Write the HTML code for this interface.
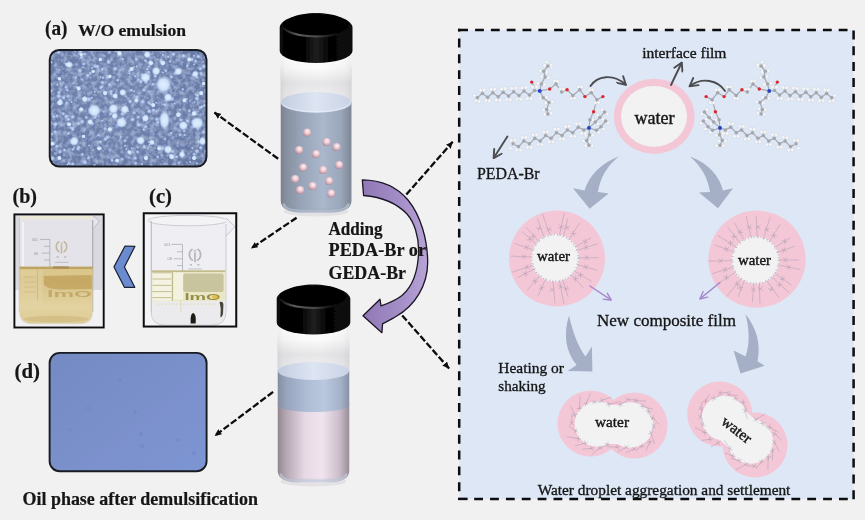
<!DOCTYPE html>
<html lang="en"><head><meta charset="utf-8"><title>Demulsification mechanism</title>
<style>
html,body{margin:0;padding:0;background:#f1f1f1;}
body{width:865px;height:520px;overflow:hidden;}
svg{display:block;}
text{font-family:"Liberation Serif","DejaVu Serif",serif;fill:#141414;stroke:#141414;stroke-width:0.32px;}
.ns{stroke:none;}
.w{stroke-width:0.4px;}
.b{font-weight:bold;stroke-width:0.2px;}
</style></head><body>
<svg width="865" height="520" viewBox="0 0 865 520">
<defs>
<filter id="soft" x="0" y="0" width="1" height="1" filterUnits="objectBoundingBox"><feGaussianBlur stdDeviation="0.45"/></filter>
<clipPath id="cpA"><rect x="49.7" y="50" width="156.8" height="116.5" rx="9.5" ry="9.5"/></clipPath>
<clipPath id="cpD"><rect x="49.6" y="352.9" width="157" height="118.3" rx="10" ry="10"/></clipPath>
<clipPath id="cpB"><rect x="14" y="214" width="90" height="114"/></clipPath>
<clipPath id="cpC"><rect x="143.5" y="213" width="93" height="114"/></clipPath>
<radialGradient id="gA" cx="0.45" cy="0.45" r="0.8">
 <stop offset="0" stop-color="#7183ae"/><stop offset="0.6" stop-color="#6a7ca8"/><stop offset="1" stop-color="#5f719d"/>
</radialGradient>
<filter id="noiseA" x="0" y="0" width="1" height="1"><feTurbulence type="fractalNoise" baseFrequency="0.22" numOctaves="2" seed="4"/><feColorMatrix values="0 0 0 0 0.70  0 0 0 0 0.79  0 0 0 0 0.95  0 0 0 2.2 -0.85"/><feGaussianBlur stdDeviation="0.7"/></filter>
<radialGradient id="blob" cx="0.5" cy="0.5" r="0.5">
 <stop offset="0" stop-color="#e2f0ff" stop-opacity="1"/><stop offset="0.62" stop-color="#d2e5fd" stop-opacity="0.95"/><stop offset="1" stop-color="#a9c4ee" stop-opacity="0"/>
</radialGradient>
<radialGradient id="dot" cx="0.5" cy="0.5" r="0.5">
 <stop offset="0" stop-color="#cfe2fb" stop-opacity="0.95"/><stop offset="0.5" stop-color="#b5cdf2" stop-opacity="0.7"/><stop offset="1" stop-color="#90aade" stop-opacity="0"/>
</radialGradient>
<linearGradient id="gD" x1="0" y1="0" x2="1" y2="1">
 <stop offset="0" stop-color="#748ac3"/><stop offset="0.5" stop-color="#7a90cb"/><stop offset="1" stop-color="#7d95d3"/>
</linearGradient>
<linearGradient id="capSide" x1="0" y1="0" x2="1" y2="0">
 <stop offset="0" stop-color="#101010"/><stop offset="0.06" stop-color="#030303"/><stop offset="0.32" stop-color="#000"/><stop offset="0.5" stop-color="#202020"/><stop offset="0.68" stop-color="#040404"/><stop offset="1" stop-color="#0c0c0c"/>
</linearGradient>
<linearGradient id="capHi" x1="0" y1="0" x2="1" y2="0">
 <stop offset="0" stop-color="#777" stop-opacity="0.15"/><stop offset="0.25" stop-color="#6a6a6a" stop-opacity="0.9"/><stop offset="0.6" stop-color="#555" stop-opacity="0.8"/><stop offset="1" stop-color="#444" stop-opacity="0"/>
</linearGradient>
<linearGradient id="capTop" x1="0" y1="0" x2="0" y2="1">
 <stop offset="0" stop-color="#0a0a0a"/><stop offset="0.7" stop-color="#0c0c0c"/><stop offset="1" stop-color="#3a3a3a"/>
</linearGradient>
<linearGradient id="glass" x1="0" y1="0" x2="1" y2="0">
 <stop offset="0" stop-color="#cfcfd2"/><stop offset="0.07" stop-color="#e4e4e6"/><stop offset="0.3" stop-color="#f3f3f4"/><stop offset="0.6" stop-color="#f7f7f8"/><stop offset="0.9" stop-color="#e6e6e8"/><stop offset="1" stop-color="#d2d2d5"/>
</linearGradient>
<linearGradient id="glassV" x1="0" y1="0" x2="0" y2="1">
 <stop offset="0" stop-color="#ffffff" stop-opacity="0.95"/><stop offset="0.35" stop-color="#ffffff" stop-opacity="0.5"/><stop offset="0.6" stop-color="#d8d8da" stop-opacity="0.55"/><stop offset="1" stop-color="#e9e9ec" stop-opacity="0.2"/>
</linearGradient>
<linearGradient id="liqBlue" x1="0" y1="0" x2="1" y2="0">
 <stop offset="0" stop-color="#79828f"/><stop offset="0.08" stop-color="#86909f"/><stop offset="0.3" stop-color="#98a5b9"/><stop offset="0.6" stop-color="#aab7cc"/><stop offset="0.85" stop-color="#9aa6b9"/><stop offset="1" stop-color="#7d8694"/>
</linearGradient>
<linearGradient id="liqSurf" x1="0" y1="0" x2="1" y2="0">
 <stop offset="0" stop-color="#c3cde0"/><stop offset="0.5" stop-color="#dde5f3"/><stop offset="1" stop-color="#cad3e5"/>
</linearGradient>
<linearGradient id="liqBlue2" x1="0" y1="0" x2="1" y2="0">
 <stop offset="0" stop-color="#838ea3"/><stop offset="0.12" stop-color="#97a4bc"/><stop offset="0.4" stop-color="#aebcd5"/><stop offset="0.65" stop-color="#bac8df"/><stop offset="0.88" stop-color="#a4b1c9"/><stop offset="1" stop-color="#8791a5"/>
</linearGradient>
<linearGradient id="liqPink" x1="0" y1="0" x2="1" y2="0">
 <stop offset="0" stop-color="#91868f"/><stop offset="0.12" stop-color="#b5a8b3"/><stop offset="0.38" stop-color="#e6d9e5"/><stop offset="0.62" stop-color="#f0e4ee"/><stop offset="0.86" stop-color="#cbbeca"/><stop offset="1" stop-color="#988d98"/>
</linearGradient>
<radialGradient id="sph" cx="0.56" cy="0.36" r="0.72">
 <stop offset="0" stop-color="#fff3f6"/><stop offset="0.4" stop-color="#eccdd5"/><stop offset="0.78" stop-color="#c59aa7"/><stop offset="1" stop-color="#8f6e7b"/>
</radialGradient>
<linearGradient id="purp" x1="0" y1="0" x2="1" y2="0">
 <stop offset="0" stop-color="#8f78b4"/><stop offset="0.6" stop-color="#a58fc8"/><stop offset="1" stop-color="#b7a4d6"/>
</linearGradient>
<linearGradient id="oilB" x1="0" y1="0" x2="0" y2="1">
 <stop offset="0" stop-color="#c6aa64"/><stop offset="0.12" stop-color="#d5bf82"/><stop offset="0.35" stop-color="#dac68e"/><stop offset="0.7" stop-color="#e3d3a0"/><stop offset="1" stop-color="#dccb94"/>
</linearGradient>
<marker id="ah" viewBox="0 0 10 10" refX="9.6" refY="5" markerWidth="3.1" markerHeight="2.8" orient="auto" markerUnits="strokeWidth" preserveAspectRatio="none">
 <path d="M0,0 L10,5 L0,10 L1.2,5 Z" fill="#0a0a0a"/>
</marker>
<marker id="ag" viewBox="0 0 10 10" refX="8.4" refY="5" markerWidth="5.6" markerHeight="5.6" orient="auto" markerUnits="strokeWidth">
 <path d="M1.5,0.8 L9,5 L1.5,9.2" fill="none" stroke="#4d4d4f" stroke-width="1.8" stroke-linecap="round" stroke-linejoin="round"/>
</marker>
<marker id="ap" viewBox="0 0 10 10" refX="8" refY="5" markerWidth="6.5" markerHeight="6.5" orient="auto" markerUnits="strokeWidth">
 <path d="M1,1 L9,5 L1,9" fill="none" stroke="#a48acb" stroke-width="1.5" stroke-linecap="round" stroke-linejoin="round"/>
</marker>
</defs>
<g filter="url(#soft)">
<rect x="0" y="0" width="865" height="520" fill="#f1f1f1"/>
<g clip-path="url(#cpA)"><rect x="49.5" y="49.5" width="158.0" height="117.5" fill="url(#gA)"/><rect x="49.5" y="49.5" width="158.0" height="117.5" filter="url(#noiseA)" opacity="0.55"/><g fill="#a9c1ec" opacity="0.45"><circle cx="100.7" cy="67.2" r="0.7"/><circle cx="60.9" cy="112.5" r="1.3"/><circle cx="141.6" cy="156.4" r="1.0"/><circle cx="55.4" cy="100.5" r="0.8"/><circle cx="87.5" cy="114.2" r="0.7"/><circle cx="180.1" cy="64" r="1.0"/><circle cx="149.1" cy="118" r="0.7"/><circle cx="140.7" cy="96.1" r="1.0"/><circle cx="56.9" cy="150.4" r="1.1"/><circle cx="115.7" cy="113" r="1.1"/><circle cx="138" cy="129.6" r="0.8"/><circle cx="141.4" cy="124.6" r="1.3"/><circle cx="64.9" cy="133.2" r="0.7"/><circle cx="147.3" cy="107.8" r="1.5"/><circle cx="172.3" cy="104.2" r="1.8"/><circle cx="106.6" cy="78.7" r="0.9"/><circle cx="159.9" cy="78.2" r="1.1"/><circle cx="132.5" cy="152.3" r="1.8"/><circle cx="95" cy="164.7" r="0.8"/><circle cx="130.4" cy="68.9" r="1.3"/><circle cx="73.5" cy="107" r="0.7"/><circle cx="201.5" cy="58.6" r="1.3"/><circle cx="103.2" cy="90.6" r="1.8"/><circle cx="141.1" cy="103.1" r="0.8"/><circle cx="198.8" cy="105.2" r="0.8"/><circle cx="59.1" cy="131.9" r="1.8"/><circle cx="94.5" cy="94.8" r="1.3"/><circle cx="53.1" cy="103.7" r="0.9"/><circle cx="146" cy="107.5" r="1.0"/><circle cx="170.9" cy="64.7" r="1.0"/><circle cx="112.4" cy="157.2" r="1.8"/><circle cx="62.2" cy="102.3" r="1.1"/><circle cx="189.1" cy="145.8" r="1.1"/><circle cx="161.1" cy="165.4" r="1.5"/><circle cx="200.8" cy="67.2" r="0.9"/><circle cx="73.4" cy="126.9" r="0.7"/><circle cx="126.1" cy="118.7" r="1.1"/><circle cx="94" cy="66.6" r="1.3"/><circle cx="145.9" cy="86.9" r="0.9"/><circle cx="158.6" cy="110.1" r="0.7"/><circle cx="121.6" cy="151.8" r="1.5"/><circle cx="112.4" cy="95.8" r="1.8"/><circle cx="149.7" cy="56.8" r="0.8"/><circle cx="205.1" cy="101.3" r="0.8"/><circle cx="103.2" cy="55.7" r="0.7"/><circle cx="139.1" cy="112.6" r="1.3"/><circle cx="146.5" cy="57.8" r="1.0"/><circle cx="146.5" cy="67" r="1.1"/><circle cx="200.5" cy="120.3" r="1.8"/><circle cx="68.9" cy="149.3" r="1.8"/><circle cx="125.4" cy="86.1" r="0.9"/><circle cx="65.6" cy="89.8" r="1.1"/><circle cx="125.1" cy="130.8" r="0.7"/><circle cx="81.9" cy="161.4" r="1.3"/><circle cx="72.7" cy="113.3" r="0.7"/><circle cx="169.3" cy="84.5" r="0.8"/><circle cx="159.5" cy="80.2" r="1.3"/><circle cx="193" cy="91.3" r="1.0"/><circle cx="133.6" cy="141" r="1.3"/><circle cx="150.1" cy="121.6" r="1.0"/><circle cx="176.9" cy="145.7" r="1.0"/><circle cx="81.1" cy="107.4" r="0.7"/><circle cx="205.9" cy="142.3" r="1.8"/><circle cx="90.4" cy="130.9" r="1.3"/><circle cx="120.2" cy="159.6" r="1.3"/><circle cx="200.4" cy="92.3" r="1.0"/><circle cx="65.6" cy="104.7" r="1.3"/><circle cx="81.8" cy="122.8" r="0.7"/><circle cx="125.3" cy="126.2" r="0.8"/><circle cx="181.4" cy="63.6" r="1.5"/><circle cx="173.1" cy="137.6" r="1.8"/><circle cx="190" cy="100.5" r="1.3"/><circle cx="63.2" cy="160.7" r="1.5"/><circle cx="122.7" cy="136.8" r="0.8"/><circle cx="164" cy="69.5" r="0.9"/><circle cx="53.9" cy="118.9" r="1.8"/><circle cx="176.9" cy="66.7" r="1.8"/><circle cx="153.3" cy="90.7" r="0.9"/><circle cx="52.9" cy="143.4" r="0.8"/><circle cx="132.7" cy="159.2" r="1.5"/><circle cx="205.4" cy="72.4" r="1.0"/><circle cx="53.9" cy="74.5" r="1.0"/><circle cx="170.2" cy="87.8" r="1.5"/><circle cx="181.3" cy="56.7" r="1.3"/><circle cx="191.3" cy="127.3" r="1.5"/><circle cx="180.2" cy="152.7" r="0.9"/><circle cx="133.5" cy="111" r="0.7"/><circle cx="187.4" cy="140.7" r="0.7"/><circle cx="172.1" cy="67.1" r="0.9"/><circle cx="124.3" cy="134.7" r="0.7"/><circle cx="101" cy="110.4" r="1.8"/><circle cx="173.4" cy="62" r="0.7"/><circle cx="88.8" cy="82" r="0.8"/><circle cx="129.7" cy="115.5" r="0.8"/><circle cx="119.5" cy="121.5" r="1.0"/><circle cx="159" cy="102.7" r="1.8"/><circle cx="129.7" cy="78.6" r="1.1"/><circle cx="195.3" cy="154.4" r="1.0"/><circle cx="182.2" cy="65.6" r="0.8"/><circle cx="111.5" cy="86.6" r="1.0"/><circle cx="117.2" cy="74.5" r="1.1"/><circle cx="173.4" cy="154.9" r="0.9"/><circle cx="197.9" cy="125.1" r="1.3"/><circle cx="72.1" cy="153.2" r="1.8"/><circle cx="84.2" cy="161.4" r="1.5"/><circle cx="189.3" cy="68.6" r="1.0"/><circle cx="75" cy="100.2" r="1.5"/><circle cx="103.1" cy="72.5" r="1.3"/><circle cx="64.1" cy="92.5" r="1.3"/><circle cx="137" cy="101.3" r="0.7"/><circle cx="110.2" cy="110.3" r="1.1"/><circle cx="130.4" cy="57.1" r="1.0"/><circle cx="203" cy="61.8" r="1.1"/><circle cx="92.5" cy="155.9" r="0.9"/><circle cx="92.2" cy="64.7" r="1.5"/><circle cx="183.7" cy="128.9" r="1.1"/><circle cx="113.6" cy="112.6" r="1.8"/><circle cx="160.2" cy="60" r="0.7"/><circle cx="175.8" cy="71" r="0.8"/><circle cx="92" cy="51.5" r="0.8"/><circle cx="176.2" cy="59.3" r="1.0"/><circle cx="60" cy="150.9" r="1.8"/><circle cx="51.3" cy="166.3" r="1.5"/><circle cx="195.9" cy="81" r="0.9"/><circle cx="56.3" cy="132.9" r="0.8"/><circle cx="202.6" cy="80.3" r="0.9"/><circle cx="81.4" cy="86.2" r="1.1"/><circle cx="133.4" cy="73.7" r="1.8"/><circle cx="128.5" cy="70.4" r="1.3"/><circle cx="176.5" cy="166.4" r="0.7"/><circle cx="51.9" cy="135.6" r="1.0"/><circle cx="130.7" cy="78.4" r="1.8"/><circle cx="66.3" cy="145.7" r="1.5"/><circle cx="153.2" cy="113.6" r="1.5"/><circle cx="202.8" cy="85.7" r="1.0"/><circle cx="204.7" cy="89.8" r="0.9"/><circle cx="113.4" cy="90.3" r="0.7"/><circle cx="181.7" cy="51.2" r="1.1"/><circle cx="117.6" cy="56" r="1.5"/><circle cx="187" cy="128.3" r="1.1"/><circle cx="144.1" cy="130.9" r="0.7"/><circle cx="122.1" cy="68" r="1.8"/><circle cx="50.1" cy="92.3" r="1.3"/><circle cx="203.2" cy="113.8" r="1.0"/><circle cx="54.9" cy="153.2" r="1.0"/><circle cx="105.8" cy="49.6" r="1.5"/><circle cx="62.8" cy="82.3" r="1.0"/><circle cx="88.7" cy="140.7" r="0.8"/><circle cx="91.2" cy="60" r="1.5"/><circle cx="142.2" cy="95.8" r="1.1"/><circle cx="97.6" cy="76.9" r="0.9"/><circle cx="153.4" cy="133.6" r="1.5"/><circle cx="170.3" cy="134.2" r="1.8"/><circle cx="73.1" cy="134.6" r="0.9"/><circle cx="56.4" cy="147.6" r="1.5"/><circle cx="165.4" cy="144.9" r="0.9"/><circle cx="193.3" cy="138" r="0.7"/><circle cx="180.1" cy="118.1" r="1.0"/><circle cx="62.9" cy="54.4" r="1.3"/><circle cx="201.1" cy="93.8" r="1.8"/><circle cx="137.7" cy="123.3" r="1.0"/><circle cx="126.8" cy="49.9" r="0.8"/><circle cx="167.7" cy="108.6" r="0.8"/><circle cx="153.7" cy="57.3" r="1.8"/><circle cx="89.3" cy="58.2" r="1.1"/><circle cx="86.6" cy="138.4" r="1.0"/><circle cx="166.4" cy="164.1" r="1.8"/><circle cx="183.1" cy="58.5" r="1.1"/><circle cx="170.7" cy="122" r="1.0"/><circle cx="61.7" cy="66.8" r="1.1"/><circle cx="152.4" cy="130.9" r="0.9"/><circle cx="51.5" cy="56.6" r="1.1"/><circle cx="203.2" cy="61.2" r="1.0"/><circle cx="156.3" cy="83.7" r="1.1"/><circle cx="122.9" cy="104.3" r="0.8"/><circle cx="206.4" cy="114" r="1.1"/><circle cx="204" cy="159.5" r="0.7"/><circle cx="95.3" cy="58.5" r="1.8"/><circle cx="206.5" cy="95" r="1.0"/><circle cx="61.3" cy="60.1" r="1.1"/><circle cx="200" cy="65.1" r="1.1"/><circle cx="189.6" cy="132.1" r="1.0"/><circle cx="128.2" cy="152.4" r="1.5"/><circle cx="53.4" cy="49.9" r="1.8"/><circle cx="157.2" cy="97.1" r="0.9"/><circle cx="115.3" cy="93.7" r="0.8"/><circle cx="182.3" cy="49.7" r="1.3"/><circle cx="182.1" cy="63.6" r="1.0"/><circle cx="162.2" cy="155.4" r="1.1"/><circle cx="89.5" cy="57.1" r="1.5"/><circle cx="207.3" cy="118.7" r="1.3"/><circle cx="195.7" cy="138.3" r="0.7"/><circle cx="93.8" cy="55.6" r="1.1"/><circle cx="149.8" cy="67" r="1.1"/><circle cx="118.4" cy="86.6" r="1.3"/><circle cx="173.6" cy="99.8" r="0.7"/><circle cx="177.8" cy="123.6" r="1.0"/><circle cx="163.2" cy="55.3" r="1.5"/><circle cx="120.7" cy="137.9" r="1.1"/><circle cx="126.2" cy="156.6" r="0.9"/><circle cx="76.5" cy="98.2" r="1.1"/><circle cx="96.5" cy="136.3" r="1.1"/><circle cx="113.7" cy="77.5" r="1.8"/><circle cx="137.6" cy="95.8" r="0.9"/><circle cx="151.1" cy="58.3" r="1.8"/><circle cx="136.5" cy="102.7" r="1.3"/><circle cx="206.9" cy="102.4" r="0.9"/><circle cx="136.1" cy="78.2" r="0.9"/><circle cx="103.5" cy="60.2" r="1.0"/><circle cx="107.7" cy="144.6" r="1.0"/><circle cx="189.7" cy="137.6" r="1.5"/><circle cx="110" cy="137.1" r="1.0"/><circle cx="109" cy="89.2" r="0.7"/><circle cx="128.2" cy="117" r="1.3"/><circle cx="69.4" cy="108.6" r="1.0"/><circle cx="64.1" cy="154.9" r="1.5"/><circle cx="112.7" cy="101.9" r="1.1"/><circle cx="183.6" cy="152.1" r="0.7"/><circle cx="69.6" cy="99.5" r="1.8"/><circle cx="202.5" cy="107.1" r="0.8"/><circle cx="111.4" cy="158.4" r="1.8"/><circle cx="203.1" cy="78.7" r="0.8"/><circle cx="84.9" cy="67.4" r="0.8"/><circle cx="198.3" cy="134.3" r="1.8"/><circle cx="62.9" cy="140.8" r="0.7"/><circle cx="173.1" cy="76.8" r="0.7"/><circle cx="151.5" cy="85.2" r="0.9"/><circle cx="148.5" cy="111.6" r="1.5"/><circle cx="159.9" cy="62.7" r="0.8"/><circle cx="97" cy="160.4" r="1.0"/><circle cx="110.8" cy="75.8" r="0.7"/><circle cx="51.2" cy="84.9" r="1.8"/><circle cx="93.5" cy="86.7" r="1.0"/><circle cx="124.6" cy="77.1" r="1.0"/><circle cx="54.1" cy="97.9" r="1.1"/><circle cx="58.2" cy="72.3" r="1.5"/><circle cx="62.3" cy="76.3" r="1.5"/><circle cx="195.7" cy="76.1" r="0.7"/><circle cx="159.4" cy="133.9" r="1.3"/><circle cx="157.3" cy="72.8" r="1.1"/><circle cx="166.3" cy="108.8" r="1.0"/><circle cx="127.8" cy="73" r="1.0"/><circle cx="86" cy="75.5" r="1.1"/><circle cx="66.7" cy="122.8" r="0.9"/><circle cx="191.1" cy="106.5" r="0.7"/><circle cx="199.4" cy="66.7" r="1.5"/><circle cx="58.1" cy="52.3" r="0.9"/><circle cx="115.1" cy="132.9" r="0.9"/><circle cx="111.6" cy="155" r="1.3"/><circle cx="165.3" cy="166.7" r="0.9"/><circle cx="101.5" cy="71.3" r="1.8"/><circle cx="54.5" cy="127.6" r="1.5"/><circle cx="182.1" cy="165.2" r="1.8"/><circle cx="76.2" cy="49.8" r="1.1"/><circle cx="62.3" cy="98.9" r="0.8"/><circle cx="138.2" cy="138.7" r="1.5"/><circle cx="105.8" cy="146" r="1.5"/><circle cx="63.4" cy="132.4" r="1.0"/><circle cx="108.4" cy="157.5" r="1.0"/><circle cx="100.6" cy="136.1" r="1.8"/><circle cx="54.3" cy="97.8" r="1.5"/><circle cx="55.9" cy="53.6" r="0.8"/><circle cx="176.4" cy="56.8" r="1.0"/><circle cx="167.6" cy="155.1" r="1.3"/><circle cx="106.8" cy="88.9" r="0.7"/><circle cx="90.9" cy="133.7" r="1.3"/><circle cx="195.5" cy="84.4" r="0.8"/><circle cx="53.3" cy="77" r="1.8"/><circle cx="162.6" cy="104.2" r="1.5"/><circle cx="174.3" cy="156.8" r="1.8"/><circle cx="70.5" cy="107.8" r="0.7"/><circle cx="176.3" cy="136.3" r="0.9"/><circle cx="145.4" cy="88" r="1.3"/><circle cx="122.3" cy="141.6" r="0.8"/><circle cx="130.4" cy="95.5" r="0.9"/><circle cx="88.6" cy="57.1" r="0.7"/><circle cx="125.6" cy="113.5" r="0.9"/><circle cx="204.4" cy="153.3" r="0.8"/><circle cx="91.4" cy="59.4" r="0.8"/><circle cx="116" cy="165.6" r="1.8"/><circle cx="76.9" cy="65.1" r="1.8"/><circle cx="147.5" cy="128.7" r="0.8"/><circle cx="172.7" cy="84" r="1.1"/><circle cx="139.1" cy="93.3" r="1.1"/><circle cx="81" cy="78.6" r="1.0"/><circle cx="86.7" cy="82.6" r="1.0"/><circle cx="101.1" cy="96" r="1.0"/><circle cx="129.7" cy="76.7" r="0.8"/><circle cx="152.7" cy="165.9" r="0.8"/><circle cx="50.2" cy="153.2" r="1.0"/><circle cx="182.3" cy="156.9" r="0.7"/><circle cx="188" cy="76.9" r="0.7"/><circle cx="79.5" cy="163.8" r="1.0"/><circle cx="196.5" cy="93.2" r="0.9"/><circle cx="120.5" cy="80" r="0.7"/><circle cx="66.2" cy="119.5" r="1.3"/><circle cx="83.9" cy="92.8" r="0.9"/><circle cx="56.5" cy="167" r="0.7"/><circle cx="144.2" cy="126.1" r="1.0"/><circle cx="178.2" cy="145.7" r="1.5"/><circle cx="156.7" cy="71.3" r="1.1"/><circle cx="61.8" cy="53.2" r="1.8"/><circle cx="136.1" cy="56.9" r="0.8"/><circle cx="175.2" cy="127.5" r="0.9"/><circle cx="150.5" cy="60.2" r="0.9"/><circle cx="112.3" cy="81.4" r="1.1"/><circle cx="155" cy="98.6" r="0.7"/><circle cx="98.9" cy="116.1" r="1.3"/><circle cx="114.9" cy="51.6" r="1.3"/><circle cx="151.3" cy="95.4" r="1.5"/><circle cx="81.7" cy="50.2" r="0.9"/><circle cx="116.5" cy="145.9" r="1.5"/><circle cx="140.8" cy="92.4" r="0.9"/><circle cx="70" cy="55.6" r="0.9"/><circle cx="150.7" cy="156.4" r="0.8"/><circle cx="140" cy="158.4" r="0.9"/><circle cx="72.6" cy="82.8" r="0.9"/><circle cx="195.7" cy="62.3" r="1.8"/><circle cx="168.6" cy="142.6" r="1.0"/><circle cx="97.2" cy="147.9" r="0.7"/><circle cx="203.6" cy="106.2" r="0.7"/><circle cx="145.5" cy="124.3" r="0.8"/><circle cx="192.4" cy="122.4" r="0.9"/><circle cx="150.7" cy="150.1" r="1.5"/><circle cx="146.6" cy="72.5" r="1.8"/><circle cx="78.4" cy="75.1" r="1.5"/><circle cx="197.8" cy="67.9" r="1.3"/><circle cx="68.9" cy="78.5" r="1.0"/><circle cx="56" cy="115.6" r="0.7"/><circle cx="155" cy="87.6" r="1.5"/><circle cx="144.2" cy="114.1" r="1.1"/><circle cx="152" cy="85.7" r="1.0"/><circle cx="116.8" cy="126.9" r="1.8"/><circle cx="129.1" cy="70.5" r="0.7"/><circle cx="147.3" cy="107" r="1.0"/><circle cx="120.1" cy="122.2" r="1.8"/><circle cx="181.7" cy="144.7" r="1.5"/><circle cx="66.4" cy="64.6" r="1.5"/><circle cx="107.2" cy="143.8" r="0.7"/><circle cx="55.9" cy="64.8" r="1.3"/><circle cx="172.4" cy="109.6" r="0.7"/><circle cx="168.3" cy="154.6" r="0.9"/><circle cx="53.6" cy="57.3" r="0.8"/><circle cx="80.1" cy="164.9" r="1.8"/><circle cx="95" cy="144.8" r="0.9"/><circle cx="157.9" cy="134.2" r="1.0"/><circle cx="59.9" cy="90.7" r="1.1"/><circle cx="74.6" cy="154.8" r="1.1"/><circle cx="192.5" cy="103.1" r="1.1"/><circle cx="128.9" cy="157.6" r="1.0"/><circle cx="143" cy="121.9" r="1.0"/><circle cx="99.9" cy="53.8" r="0.9"/><circle cx="113.2" cy="124.3" r="1.1"/><circle cx="156.9" cy="154.7" r="0.9"/><circle cx="174.7" cy="80.6" r="0.7"/><circle cx="150" cy="91.8" r="1.8"/><circle cx="137.2" cy="117.7" r="0.8"/><circle cx="89.3" cy="112.4" r="1.5"/><circle cx="166.1" cy="93.1" r="1.5"/><circle cx="206" cy="117.3" r="1.3"/><circle cx="101.8" cy="59.1" r="1.0"/><circle cx="77.4" cy="136.9" r="0.7"/><circle cx="96.3" cy="110.1" r="1.1"/><circle cx="150.5" cy="165.1" r="1.3"/><circle cx="165.3" cy="137.3" r="1.0"/><circle cx="73.1" cy="121.9" r="1.5"/><circle cx="115.5" cy="92.3" r="0.7"/><circle cx="70.4" cy="76.2" r="0.7"/><circle cx="53" cy="49.8" r="1.3"/><circle cx="97.5" cy="111" r="1.0"/><circle cx="114.8" cy="84.9" r="0.9"/><circle cx="81.8" cy="122.8" r="1.8"/><circle cx="74.6" cy="51.2" r="1.0"/><circle cx="161.3" cy="102.5" r="0.8"/><circle cx="150.3" cy="151.9" r="1.1"/><circle cx="113" cy="80.5" r="0.7"/><circle cx="58.4" cy="146" r="1.3"/><circle cx="143.5" cy="117.5" r="1.8"/><circle cx="88.8" cy="155.7" r="0.7"/><circle cx="59.2" cy="52.5" r="0.9"/><circle cx="87.1" cy="56.4" r="0.8"/><circle cx="51.5" cy="114.2" r="1.0"/><circle cx="72" cy="72.9" r="1.5"/><circle cx="178" cy="70" r="1.1"/><circle cx="59.6" cy="123.1" r="1.8"/><circle cx="162.5" cy="50.2" r="1.5"/><circle cx="167.2" cy="104.2" r="1.8"/><circle cx="77.2" cy="166.6" r="1.1"/><circle cx="86.2" cy="54.1" r="1.3"/><circle cx="190.3" cy="158.2" r="1.1"/><circle cx="161.9" cy="80.8" r="1.5"/><circle cx="157.8" cy="157.3" r="1.1"/><circle cx="96.2" cy="158.6" r="1.0"/><circle cx="63" cy="109.1" r="0.9"/><circle cx="90.6" cy="77.2" r="1.0"/><circle cx="198.8" cy="137.2" r="1.3"/><circle cx="79.8" cy="95.2" r="1.0"/><circle cx="109.5" cy="149.6" r="1.8"/><circle cx="124.1" cy="111.8" r="0.7"/><circle cx="185" cy="100.9" r="1.0"/><circle cx="139.6" cy="85.7" r="1.0"/><circle cx="111.4" cy="118.3" r="0.9"/><circle cx="72.3" cy="52.7" r="0.8"/><circle cx="147.8" cy="68.5" r="0.9"/><circle cx="160.2" cy="53.1" r="0.9"/><circle cx="158.9" cy="124" r="0.8"/><circle cx="165.9" cy="57.2" r="1.3"/><circle cx="81" cy="161.7" r="0.8"/><circle cx="188.5" cy="138.3" r="1.5"/><circle cx="66.4" cy="73.7" r="0.8"/><circle cx="54.8" cy="161" r="0.8"/><circle cx="179.9" cy="123.7" r="1.1"/><circle cx="124.9" cy="65.1" r="1.0"/><circle cx="96" cy="89" r="1.1"/><circle cx="52.8" cy="79.7" r="1.1"/><circle cx="57.1" cy="138.8" r="1.3"/><circle cx="171" cy="120.2" r="1.8"/><circle cx="184" cy="122.1" r="0.7"/><circle cx="174.2" cy="53.2" r="0.8"/><circle cx="104.3" cy="132.3" r="1.0"/><circle cx="162.4" cy="146.8" r="1.1"/><circle cx="76.4" cy="49.7" r="1.0"/><circle cx="95.1" cy="137.7" r="0.7"/><circle cx="50.2" cy="107.2" r="1.8"/><circle cx="159.3" cy="146.5" r="1.8"/><circle cx="143.1" cy="162" r="1.1"/><circle cx="140.8" cy="68.2" r="1.0"/><circle cx="197.7" cy="76.7" r="0.9"/><circle cx="66.9" cy="124.3" r="0.8"/><circle cx="127" cy="166" r="0.8"/><circle cx="148.7" cy="91.3" r="1.5"/><circle cx="196.2" cy="154.3" r="0.8"/><circle cx="116.2" cy="125.4" r="1.3"/><circle cx="82.1" cy="80.4" r="0.9"/><circle cx="109.4" cy="153.4" r="1.0"/><circle cx="198.6" cy="64.4" r="0.7"/><circle cx="104.6" cy="87.9" r="0.9"/><circle cx="186.6" cy="102.4" r="1.3"/><circle cx="76.3" cy="101.1" r="1.1"/><circle cx="141" cy="64.3" r="1.8"/><circle cx="151" cy="131.3" r="1.0"/><circle cx="91.8" cy="138.2" r="0.9"/><circle cx="163.8" cy="164" r="1.3"/><circle cx="144.8" cy="90.5" r="1.0"/><circle cx="101.3" cy="71.7" r="0.8"/><circle cx="75.5" cy="126.8" r="1.0"/><circle cx="110.2" cy="165.1" r="1.1"/><circle cx="165.4" cy="100.6" r="1.0"/><circle cx="66.8" cy="156.6" r="1.1"/><circle cx="82.1" cy="95.1" r="0.7"/><circle cx="51.5" cy="149.9" r="1.5"/><circle cx="159.1" cy="108.3" r="1.1"/><circle cx="122.7" cy="66.2" r="1.5"/><circle cx="50.4" cy="78" r="1.5"/><circle cx="160.3" cy="118.5" r="1.5"/><circle cx="183.2" cy="128" r="1.0"/><circle cx="156.9" cy="124.9" r="1.8"/><circle cx="117.8" cy="80" r="0.8"/><circle cx="190.9" cy="78" r="1.5"/><circle cx="162.2" cy="123.5" r="1.1"/><circle cx="183.7" cy="106.2" r="0.7"/><circle cx="147.7" cy="97.6" r="0.9"/><circle cx="190.8" cy="88" r="0.7"/><circle cx="110.9" cy="107.1" r="0.8"/><circle cx="55.5" cy="113.3" r="0.9"/><circle cx="162.7" cy="161.3" r="1.0"/><circle cx="131.5" cy="61.4" r="1.8"/><circle cx="135" cy="133.8" r="0.7"/><circle cx="150.5" cy="146.9" r="1.3"/><circle cx="114.3" cy="160.9" r="1.0"/><circle cx="206" cy="71.1" r="0.8"/><circle cx="164.7" cy="121.6" r="0.7"/><circle cx="89.4" cy="94.4" r="0.7"/><circle cx="51.6" cy="98.7" r="1.5"/><circle cx="148.8" cy="128.8" r="1.1"/><circle cx="66.8" cy="85.2" r="1.5"/><circle cx="198" cy="111.4" r="1.0"/><circle cx="206.6" cy="162.4" r="1.8"/><circle cx="83" cy="64.7" r="0.8"/><circle cx="177.4" cy="124" r="1.8"/><circle cx="151" cy="134.2" r="0.9"/><circle cx="105.3" cy="124.6" r="1.5"/><circle cx="123.5" cy="84.1" r="0.9"/><circle cx="172.7" cy="104.7" r="1.0"/><circle cx="91.8" cy="93.7" r="1.1"/><circle cx="204.8" cy="129.3" r="1.8"/><circle cx="49.9" cy="134.3" r="1.1"/><circle cx="106.1" cy="126.4" r="1.3"/><circle cx="125.3" cy="99.8" r="0.8"/><circle cx="153.7" cy="92.1" r="1.1"/><circle cx="184.5" cy="56.2" r="1.3"/><circle cx="173.4" cy="66" r="1.3"/><circle cx="149.5" cy="51.3" r="0.7"/><circle cx="82.6" cy="58" r="1.1"/><circle cx="89" cy="61.4" r="0.9"/><circle cx="184.5" cy="71.3" r="1.8"/><circle cx="104.2" cy="67.4" r="1.5"/><circle cx="174.6" cy="69.2" r="0.8"/><circle cx="155.1" cy="154.5" r="1.1"/><circle cx="80.7" cy="130.9" r="0.8"/><circle cx="166.7" cy="101" r="0.8"/><circle cx="137.2" cy="80.6" r="1.0"/><circle cx="180.2" cy="105.1" r="0.7"/><circle cx="126" cy="155.9" r="1.8"/><circle cx="88.5" cy="68.8" r="0.7"/><circle cx="74.8" cy="87.2" r="1.8"/><circle cx="154.6" cy="148.3" r="1.3"/><circle cx="116.8" cy="167" r="0.8"/><circle cx="78" cy="91.8" r="0.7"/><circle cx="52.7" cy="54.9" r="1.3"/><circle cx="177.3" cy="60.5" r="1.8"/><circle cx="126.1" cy="155" r="0.7"/><circle cx="83.2" cy="98.3" r="0.9"/><circle cx="103" cy="150.7" r="1.3"/><circle cx="103.4" cy="141" r="1.0"/><circle cx="94.4" cy="89.7" r="1.1"/><circle cx="137" cy="146.6" r="1.1"/><circle cx="105.6" cy="107.5" r="1.3"/><circle cx="129.1" cy="81.4" r="1.3"/><circle cx="203.5" cy="126.4" r="0.8"/></g><g fill="url(#dot)"><circle cx="101.8" cy="86.8" r="2.0"/><circle cx="69.7" cy="163.8" r="1.5"/><circle cx="173.4" cy="54.2" r="2.8"/><circle cx="137.1" cy="97.2" r="2.5"/><circle cx="57.4" cy="84.8" r="1.5"/><circle cx="56.8" cy="146.1" r="2.2"/><circle cx="145.7" cy="126.8" r="2.5"/><circle cx="193.3" cy="121.4" r="2.5"/><circle cx="72.7" cy="128.7" r="2.8"/><circle cx="143.7" cy="129.5" r="1.8"/><circle cx="55.7" cy="123.9" r="2.8"/><circle cx="170" cy="61.4" r="1.8"/><circle cx="186.8" cy="99" r="1.5"/><circle cx="193.9" cy="126.5" r="2.0"/><circle cx="187.3" cy="65.8" r="2.0"/><circle cx="138.3" cy="79.8" r="2.0"/><circle cx="78.7" cy="53.5" r="1.5"/><circle cx="117.5" cy="124.9" r="1.5"/><circle cx="128.1" cy="110.9" r="1.5"/><circle cx="171.8" cy="99" r="2.8"/><circle cx="194.6" cy="102" r="1.5"/><circle cx="156.9" cy="119.3" r="2.8"/><circle cx="204.5" cy="105.4" r="2.2"/><circle cx="136.2" cy="59.2" r="2.2"/><circle cx="83" cy="67.3" r="1.5"/><circle cx="117" cy="50.6" r="2.8"/><circle cx="68.7" cy="163" r="1.5"/><circle cx="84" cy="63.8" r="2.2"/><circle cx="52.3" cy="134" r="1.8"/><circle cx="120.7" cy="136.9" r="1.5"/><circle cx="107.3" cy="137.3" r="2.8"/><circle cx="184.7" cy="135.2" r="1.5"/><circle cx="95.8" cy="115" r="2.2"/><circle cx="122.3" cy="159.1" r="2.0"/><circle cx="193.8" cy="55.7" r="1.5"/><circle cx="51.3" cy="51.2" r="2.8"/><circle cx="158" cy="122.1" r="2.2"/><circle cx="98.6" cy="135.2" r="1.8"/><circle cx="200.8" cy="147.6" r="2.5"/><circle cx="58.9" cy="92.7" r="2.5"/><circle cx="164.5" cy="104.7" r="1.8"/><circle cx="72.4" cy="143.2" r="2.0"/><circle cx="200.2" cy="68.8" r="2.2"/><circle cx="124.9" cy="140.9" r="2.2"/><circle cx="198.8" cy="141.7" r="2.5"/><circle cx="102.3" cy="82.4" r="2.5"/><circle cx="203.4" cy="132.1" r="2.5"/><circle cx="102" cy="120.7" r="1.5"/><circle cx="180.8" cy="120.1" r="2.0"/><circle cx="141.9" cy="164.2" r="1.8"/><circle cx="109" cy="130" r="2.5"/><circle cx="171.4" cy="77" r="2.2"/><circle cx="94.3" cy="49.7" r="2.0"/><circle cx="91.8" cy="68" r="1.5"/><circle cx="95.1" cy="66" r="2.5"/><circle cx="72.7" cy="164.1" r="2.5"/><circle cx="157.7" cy="156.9" r="2.0"/><circle cx="134" cy="112.9" r="2.2"/><circle cx="175.5" cy="73.1" r="2.8"/><circle cx="196.7" cy="77" r="2.5"/><circle cx="58.6" cy="96" r="2.8"/><circle cx="82.1" cy="79.4" r="1.5"/><circle cx="174.6" cy="103.5" r="1.5"/><circle cx="134.2" cy="91.2" r="1.5"/><circle cx="86.3" cy="117.6" r="2.0"/><circle cx="189.3" cy="110.8" r="2.2"/><circle cx="129.5" cy="73.2" r="1.8"/><circle cx="79.9" cy="70.7" r="2.8"/><circle cx="95.3" cy="117.4" r="2.0"/><circle cx="113.1" cy="110.3" r="1.8"/><circle cx="88.4" cy="157.9" r="2.2"/><circle cx="108.6" cy="62" r="2.8"/><circle cx="122.7" cy="59.1" r="2.0"/><circle cx="143.9" cy="90" r="2.5"/><circle cx="145.4" cy="60.6" r="1.8"/><circle cx="206" cy="151.3" r="2.2"/><circle cx="142.2" cy="74.6" r="2.0"/><circle cx="116.8" cy="160.7" r="2.5"/><circle cx="178.9" cy="162.7" r="2.0"/><circle cx="182.8" cy="89.3" r="1.8"/><circle cx="109.3" cy="52.7" r="1.5"/><circle cx="137.6" cy="151.8" r="2.2"/><circle cx="126.4" cy="148.9" r="1.5"/><circle cx="185.8" cy="124.7" r="1.5"/><circle cx="161.1" cy="60.1" r="2.0"/><circle cx="138.7" cy="124.8" r="2.8"/><circle cx="129.5" cy="71" r="1.8"/><circle cx="108.1" cy="77.1" r="2.8"/><circle cx="84.5" cy="54" r="2.0"/><circle cx="198.2" cy="56.5" r="2.5"/><circle cx="192.4" cy="147.9" r="1.5"/><circle cx="90.2" cy="109.8" r="2.8"/><circle cx="151.7" cy="165.3" r="1.5"/><circle cx="65.5" cy="86.8" r="1.5"/><circle cx="197.9" cy="129" r="2.0"/><circle cx="142.7" cy="101.4" r="2.8"/><circle cx="66.2" cy="87.6" r="2.0"/><circle cx="111.1" cy="93.6" r="2.2"/><circle cx="76.1" cy="77.5" r="1.8"/><circle cx="194" cy="154.3" r="2.2"/><circle cx="162.8" cy="72.4" r="1.5"/><circle cx="74.3" cy="147.4" r="1.5"/><circle cx="197.1" cy="151.3" r="2.8"/><circle cx="71.6" cy="102.1" r="1.5"/><circle cx="195.8" cy="94.7" r="1.5"/><circle cx="148.8" cy="102.6" r="2.0"/><circle cx="100.5" cy="77" r="1.5"/><circle cx="148.8" cy="66.3" r="1.8"/><circle cx="165.8" cy="70.7" r="2.2"/><circle cx="136.9" cy="66.5" r="1.8"/><circle cx="91.6" cy="97.9" r="1.8"/><circle cx="53.5" cy="116.6" r="2.0"/><circle cx="102.4" cy="69.2" r="2.2"/><circle cx="66.8" cy="103.1" r="2.2"/><circle cx="67.5" cy="164.5" r="1.5"/><circle cx="149.2" cy="142" r="1.8"/><circle cx="138" cy="147.6" r="1.5"/><circle cx="90.2" cy="73.2" r="2.0"/><circle cx="117.8" cy="80.2" r="1.8"/><circle cx="195.7" cy="61" r="2.0"/><circle cx="115.2" cy="68.6" r="2.8"/><circle cx="204.1" cy="66.5" r="2.8"/><circle cx="52" cy="144.3" r="2.0"/><circle cx="130.2" cy="101.6" r="2.5"/><circle cx="94.8" cy="91.8" r="1.5"/><circle cx="193.6" cy="75.1" r="2.5"/><circle cx="78" cy="148.6" r="2.5"/><circle cx="171.2" cy="133.1" r="1.8"/><circle cx="144.4" cy="146.9" r="2.5"/><circle cx="165" cy="139" r="1.8"/><circle cx="82.1" cy="121.5" r="2.8"/><circle cx="148.8" cy="72.1" r="2.0"/><circle cx="81.5" cy="57.2" r="2.8"/><circle cx="131.6" cy="148.3" r="1.5"/><circle cx="131.4" cy="90.3" r="2.0"/><circle cx="182.5" cy="151.1" r="2.2"/><circle cx="63.8" cy="97.6" r="2.2"/><circle cx="70.6" cy="127.7" r="1.8"/><circle cx="78.9" cy="147.2" r="2.0"/><circle cx="55.3" cy="132" r="2.5"/><circle cx="143.5" cy="50" r="2.5"/><circle cx="196.8" cy="163.3" r="1.5"/><circle cx="68.6" cy="133.5" r="2.0"/><circle cx="172.6" cy="151.5" r="2.5"/><circle cx="168.2" cy="56.7" r="1.5"/><circle cx="200.2" cy="107.6" r="2.5"/><circle cx="53.6" cy="144" r="1.8"/><circle cx="52.8" cy="163.2" r="1.8"/><circle cx="147.3" cy="69.2" r="2.0"/><circle cx="89.1" cy="145.5" r="1.5"/><circle cx="52.6" cy="158.3" r="2.8"/><circle cx="80.3" cy="51.6" r="2.5"/><circle cx="150.1" cy="104" r="1.8"/><circle cx="160.5" cy="61.6" r="1.5"/><circle cx="162.8" cy="54.8" r="1.5"/><circle cx="122.9" cy="118.3" r="2.0"/><circle cx="66.9" cy="63.8" r="1.8"/><circle cx="135.1" cy="76.2" r="1.8"/><circle cx="72.8" cy="116.8" r="2.8"/><circle cx="112.2" cy="160.9" r="1.5"/><circle cx="197.6" cy="95.2" r="2.2"/><circle cx="143.8" cy="120.3" r="1.5"/><circle cx="112" cy="160.1" r="2.0"/><circle cx="103" cy="77.7" r="2.0"/><circle cx="162.6" cy="148.6" r="2.5"/><circle cx="176.6" cy="156.8" r="2.2"/><circle cx="183.4" cy="55.8" r="2.5"/><circle cx="72.7" cy="129.4" r="2.0"/><circle cx="88.9" cy="99.1" r="2.8"/><circle cx="51.3" cy="62.3" r="1.8"/><circle cx="60.4" cy="100.4" r="2.5"/><circle cx="155.2" cy="76" r="2.2"/><circle cx="202.7" cy="140.7" r="2.2"/><circle cx="149.5" cy="144.6" r="1.5"/><circle cx="54.9" cy="124.9" r="2.0"/><circle cx="194.5" cy="122.8" r="2.8"/><circle cx="135.2" cy="158.1" r="2.5"/><circle cx="65.4" cy="63.8" r="1.5"/><circle cx="118" cy="161.2" r="2.0"/><circle cx="67.4" cy="90.3" r="1.8"/><circle cx="68.5" cy="119.3" r="2.5"/><circle cx="191.9" cy="59.4" r="2.5"/><circle cx="133.8" cy="66.9" r="1.5"/><circle cx="130.3" cy="153.5" r="2.2"/><circle cx="140.7" cy="81.7" r="2.8"/><circle cx="63.4" cy="113.7" r="2.2"/><circle cx="145.9" cy="116.5" r="2.8"/><circle cx="110.6" cy="114" r="2.0"/><circle cx="122.3" cy="113.9" r="2.5"/><circle cx="125" cy="145.7" r="1.5"/><circle cx="87.8" cy="75.5" r="2.5"/><circle cx="135.8" cy="163.4" r="2.2"/><circle cx="51.4" cy="90.9" r="1.8"/><circle cx="100.7" cy="87.7" r="2.0"/><circle cx="94.5" cy="165.5" r="2.0"/><circle cx="58.5" cy="52.1" r="2.5"/><circle cx="60.1" cy="151.9" r="2.2"/><circle cx="153.4" cy="110.2" r="2.2"/><circle cx="105.4" cy="139.1" r="2.5"/><circle cx="85.1" cy="162.2" r="2.8"/><circle cx="197.1" cy="98.5" r="2.8"/><circle cx="105.2" cy="128.9" r="2.5"/><circle cx="146" cy="82" r="2.5"/><circle cx="64.5" cy="150.1" r="2.2"/><circle cx="92" cy="123.6" r="2.8"/><circle cx="194" cy="64.5" r="1.5"/><circle cx="50.2" cy="139.5" r="2.5"/><circle cx="68.1" cy="96.2" r="2.5"/><circle cx="73.1" cy="149.4" r="2.0"/><circle cx="187.4" cy="120.9" r="2.2"/><circle cx="184.1" cy="130.9" r="2.0"/><circle cx="163.7" cy="83.9" r="2.2"/><circle cx="132.6" cy="119.5" r="2.8"/><circle cx="100.4" cy="142" r="2.2"/><circle cx="109.6" cy="84.8" r="2.5"/><circle cx="97.5" cy="66.5" r="2.5"/><circle cx="109.1" cy="76.8" r="2.0"/><circle cx="100.7" cy="148.6" r="1.8"/><circle cx="201" cy="73.5" r="2.2"/><circle cx="190.3" cy="161.8" r="1.5"/><circle cx="57" cy="115.9" r="2.2"/><circle cx="96.9" cy="112.5" r="2.0"/><circle cx="134.6" cy="166.8" r="2.5"/><circle cx="180" cy="134.9" r="2.2"/><circle cx="111" cy="91.5" r="2.5"/><circle cx="156.3" cy="102.7" r="1.5"/><circle cx="156.4" cy="111.2" r="1.5"/><circle cx="114.2" cy="108.4" r="2.8"/><circle cx="138.2" cy="117" r="1.8"/><circle cx="201.9" cy="106.7" r="2.2"/><circle cx="170.7" cy="155.2" r="2.5"/><circle cx="103.7" cy="111.8" r="1.5"/><circle cx="76.5" cy="86.9" r="1.5"/><circle cx="180" cy="109.7" r="1.5"/><circle cx="153.1" cy="84.2" r="2.0"/><circle cx="179.1" cy="165.9" r="2.2"/><circle cx="149.2" cy="111.1" r="2.5"/><circle cx="82.3" cy="154.4" r="2.2"/><circle cx="78.3" cy="123.5" r="2.5"/><circle cx="66.3" cy="116.5" r="2.8"/></g><g fill="url(#blob)"><ellipse cx="163.5" cy="84.7" rx="8.2" ry="8.9"/><ellipse cx="145.5" cy="77.5" rx="5.6" ry="5.2"/><ellipse cx="94.3" cy="110.4" rx="6.7" ry="6.7"/><ellipse cx="121.5" cy="122.4" rx="5.6" ry="5.6"/><ellipse cx="124.8" cy="109.4" rx="4.5" ry="4.5"/><ellipse cx="113.5" cy="108.7" rx="5.2" ry="5.2"/><ellipse cx="164.5" cy="120" rx="5.6" ry="10.1"/><ellipse cx="197.2" cy="123.1" rx="6.7" ry="6.7"/><ellipse cx="183.3" cy="125.5" rx="4.8" ry="4.8"/><ellipse cx="74.3" cy="141.2" rx="4.8" ry="4.8"/><ellipse cx="156.1" cy="71" rx="4.5" ry="4.5"/><ellipse cx="178.4" cy="71.4" rx="4.1" ry="4.1"/><ellipse cx="168.1" cy="97.4" rx="4.5" ry="4.5"/><ellipse cx="140.7" cy="140.5" rx="4.5" ry="4.5"/><ellipse cx="168.1" cy="149.6" rx="4.5" ry="4.5"/><ellipse cx="147.2" cy="54.6" rx="3.7" ry="3.7"/><ellipse cx="69" cy="64.7" rx="4.1" ry="3.4"/><ellipse cx="59.9" cy="102.7" rx="3.4" ry="3.4"/><ellipse cx="122.7" cy="92.4" rx="3.7" ry="3.7"/><ellipse cx="84.7" cy="99.1" rx="3.4" ry="3.4"/><ellipse cx="150.8" cy="63" rx="3" ry="3"/><ellipse cx="162.8" cy="63" rx="3" ry="3"/><ellipse cx="195.3" cy="73.9" rx="3.4" ry="3.4"/><ellipse cx="145.5" cy="118.3" rx="3.7" ry="3.7"/><ellipse cx="202.5" cy="141.2" rx="3.7" ry="4.5"/><ellipse cx="119.5" cy="53.4" rx="3" ry="3"/><ellipse cx="182.1" cy="154.4" rx="3.4" ry="3.4"/><ellipse cx="115.2" cy="96" rx="3" ry="3"/><ellipse cx="81.1" cy="109.4" rx="2.6" ry="2.6"/><ellipse cx="90.2" cy="121.9" rx="3" ry="3"/><ellipse cx="69" cy="124.3" rx="2.6" ry="2.6"/><ellipse cx="114.7" cy="115.9" rx="3.4" ry="3.4"/><ellipse cx="194.1" cy="113.5" rx="3" ry="3"/><ellipse cx="178.4" cy="114.7" rx="3" ry="3"/><ellipse cx="152" cy="142.4" rx="3" ry="3"/><ellipse cx="159.2" cy="148.4" rx="2.6" ry="2.6"/><ellipse cx="105.1" cy="93.1" rx="2.6" ry="2.6"/><ellipse cx="109.9" cy="129.2" rx="2.6" ry="2.6"/><ellipse cx="78.7" cy="88.3" rx="2.6" ry="2.6"/><ellipse cx="52.2" cy="143.6" rx="2.6" ry="2.6"/><ellipse cx="99.1" cy="148.4" rx="2.6" ry="2.6"/><ellipse cx="171.7" cy="156.8" rx="3" ry="3"/><ellipse cx="129.2" cy="152" rx="2.2" ry="2.2"/><ellipse cx="189.3" cy="59.4" rx="2.6" ry="2.6"/><ellipse cx="201.3" cy="93.1" rx="2.6" ry="2.6"/><ellipse cx="184.5" cy="100.3" rx="2.6" ry="2.6"/><ellipse cx="59.4" cy="78.7" rx="2.2" ry="2.2"/><ellipse cx="93.1" cy="71.4" rx="2.2" ry="2.2"/><ellipse cx="109.9" cy="76.3" rx="2.2" ry="2.2"/><ellipse cx="131.6" cy="69" rx="2.6" ry="2.6"/><ellipse cx="136.4" cy="100.3" rx="2.6" ry="2.6"/><ellipse cx="153.2" cy="105.1" rx="2.6" ry="2.6"/><ellipse cx="83.5" cy="136.4" rx="2.2" ry="2.2"/><ellipse cx="59.4" cy="158" rx="2.6" ry="2.6"/><ellipse cx="117.1" cy="160.4" rx="2.2" ry="2.2"/><ellipse cx="146" cy="158" rx="2.6" ry="2.6"/><ellipse cx="194.1" cy="158" rx="2.6" ry="2.6"/><ellipse cx="203.7" cy="83.5" rx="2.2" ry="2.2"/><ellipse cx="100.3" cy="59.4" rx="2.2" ry="2.2"/><ellipse cx="81.1" cy="54.6" rx="2.2" ry="2.2"/></g></g><rect x="49.7" y="50" width="156.8" height="116.5" rx="9.5" ry="9.5" fill="none" stroke="#181a22" stroke-width="1.9"/>
<g clip-path="url(#cpD)"><rect x="49" y="352.5" width="158.5" height="119.5" fill="url(#gD)"/><g fill="none" stroke="#6680c0" stroke-width="0.7" opacity="0.8"><circle cx="88" cy="408" r="1.2"/><circle cx="135" cy="412" r="1.3"/><circle cx="141" cy="434" r="1.4"/><circle cx="142" cy="446" r="1.6"/><circle cx="194" cy="453" r="1.5"/><circle cx="178" cy="440" r="1"/><circle cx="120" cy="380" r="0.9"/><circle cx="70" cy="430" r="0.9"/></g></g><rect x="49.6" y="352.9" width="157" height="118.3" rx="10" ry="10" fill="none" stroke="#181a22" stroke-width="1.9"/>
<text class="b" x="45" y="35" font-size="21" textLength="22.5" lengthAdjust="spacingAndGlyphs">(a)</text>
<text class="b" x="78" y="36" font-size="17.5" textLength="108" lengthAdjust="spacingAndGlyphs">W/O emulsion</text>
<text class="b" x="12.5" y="203" font-size="21" textLength="24.5" lengthAdjust="spacingAndGlyphs">(b)</text>
<text class="b" x="149" y="203" font-size="21" textLength="23" lengthAdjust="spacingAndGlyphs">(c)</text>
<text class="b" x="14.5" y="377.5" font-size="21" textLength="25.5" lengthAdjust="spacingAndGlyphs">(d)</text>
<text class="b" x="22.5" y="504.5" font-size="18" textLength="235.5" lengthAdjust="spacingAndGlyphs">Oil phase after demulsification</text>
<g clip-path="url(#cpB)"><rect x="13" y="213" width="92" height="116" fill="#d9d9e0"/><rect x="13" y="290" width="92" height="40" fill="#f1f1f4"/><path d="M19,216.5 L93,216.5 L93,312 Q93,324.5 80,324.5 L32,324.5 Q19,324.5 19,312 Z" fill="#e3e3e9"/><rect x="19" y="216" width="74" height="3.4" fill="#ebe8d8"/><path d="M93,216 L99,220.5 Q100,222 97.5,223.5 L93,229" fill="#e6e6ea" stroke="#b4b4bd" stroke-width="0.8"/><line x1="19.3" y1="217" x2="19.3" y2="312" stroke="#c3c3cb" stroke-width="0.9"/><line x1="92.7" y1="220" x2="92.7" y2="312" stroke="#a9a9b3" stroke-width="1.1"/><rect x="22" y="222" width="2" height="44" fill="#f6f6f9" opacity="0.8"/><path d="M19.6,267.5 L92.6,267.5 L92.6,311 Q92.6,323.6 79,323.6 L33,323.6 Q19.6,323.6 19.6,311 Z" fill="url(#oilB)"/><rect x="19.6" y="266.6" width="73" height="2.4" fill="#bfa362"/><rect x="19.6" y="269" width="73" height="6.5" fill="#dcc88e" opacity="0.9"/><path d="M44,276 L91.5,275 L92,289 L60,289.5 Q48,289 44,285 Z" fill="#c3a55f" opacity="0.85"/><rect x="20.5" y="270" width="22" height="40" fill="#e1d4a4" opacity="0.55"/><line x1="24" y1="277" x2="36" y2="277" stroke="#c2aa6c" stroke-width="0.6" opacity="0.7"/><line x1="24" y1="282" x2="36" y2="282" stroke="#c2aa6c" stroke-width="0.6" opacity="0.7"/><line x1="24" y1="287" x2="36" y2="287" stroke="#c2aa6c" stroke-width="0.6" opacity="0.7"/><line x1="24" y1="292" x2="36" y2="292" stroke="#c2aa6c" stroke-width="0.6" opacity="0.7"/><line x1="37.5" y1="270" x2="37.5" y2="300" stroke="#c2aa6c" stroke-width="0.9" opacity="0.6"/><ellipse cx="56" cy="319" rx="32" ry="3.2" fill="#cdb87c" opacity="0.6"/><text class="ns" x="47" y="297" font-size="9.5" font-weight="bold" style="fill:#c2a666;font-family:'Liberation Sans',sans-serif" opacity="0.9" textLength="45" lengthAdjust="spacingAndGlyphs">lmO</text><rect x="53" y="266.2" width="16" height="2.6" rx="1.3" fill="#a88b55" opacity="0.85"/><g stroke="#a3a3ad" stroke-width="0.7"><line x1="49.8" y1="239.4" x2="49.8" y2="268"/><line x1="40" y1="239.4" x2="49.8" y2="239.4"/><line x1="41.5" y1="253.1" x2="49.8" y2="253.1"/><line x1="44" y1="246.3" x2="49.8" y2="246.3"/><line x1="44" y1="260" x2="49.8" y2="260"/></g><text class="ns" x="32" y="240.8" font-size="3.6" style="fill:#9696a2;font-family:'Liberation Sans',sans-serif">001</text><text class="ns" x="34" y="254.6" font-size="3.6" style="fill:#9696a2;font-family:'Liberation Sans',sans-serif">08</text><g fill="none" stroke="#c3b79c" stroke-width="1.5" stroke-linecap="round"><path d="M58.8,241.8 C55.2,244 55.6,249.8 59,251.8"/><path d="M64.2,241.8 C67.8,244 67.4,249.8 64,251.8"/><path d="M61.5,245 L61.5,253"/></g><circle cx="61.5" cy="243.4" r="1.3" fill="#d9cfb8"/><g fill="#b9b9c2"><rect x="56.6" y="256.2" width="2" height="1.6"/><rect x="64.2" y="256.2" width="2" height="1.6"/><rect x="55" y="261.8" width="13.6" height="1.1" opacity="0.8"/></g></g><rect x="14.4" y="214.4" width="89.3" height="113.1" fill="none" stroke="#0e0e10" stroke-width="1.9"/>
<g clip-path="url(#cpC)"><rect x="143" y="213" width="94" height="116" fill="#f4f4f7"/><path d="M151.2,220 L226,220 L226,312 Q226,325 212,325 L165,325 Q151.2,325 151.2,312 Z" fill="#efeff3"/><ellipse cx="187.8" cy="220.6" rx="39.8" ry="5.2" fill="#f3f3f6" stroke="#c6c6ce" stroke-width="0.9"/><path d="M226.5,218.5 L235,226.5 L226,236" fill="#f0f0f4" stroke="#c0c0c9" stroke-width="0.9"/><line x1="151.3" y1="221" x2="151.3" y2="312" stroke="#b9b9c3" stroke-width="1.1"/><line x1="226" y1="224" x2="226" y2="312" stroke="#c6c6cf" stroke-width="0.9"/><path d="M151.3,312 Q151.3,325 165,325 L212,325 Q226,325 226,312" fill="none" stroke="#c3c3cc" stroke-width="0.9"/><path d="M151.8,300 L225.4,300 L225.4,312 Q225.4,324.2 212,324.2 L165,324.2 Q151.8,324.2 151.8,312 Z" fill="#ebebee"/><rect x="151.8" y="270.6" width="73.6" height="30.6" fill="#e9e7c6"/><rect x="151.8" y="270.4" width="73.6" height="1.5" fill="#bdb684"/><rect x="152.5" y="272.6" width="19" height="28" fill="#f4f2e2"/><line x1="152.5" y1="272.8" x2="171.5" y2="272.8" stroke="#bfb888" stroke-width="0.9"/><line x1="152.5" y1="279" x2="171.5" y2="279" stroke="#bfb888" stroke-width="0.9"/><line x1="152.5" y1="285.4" x2="171.5" y2="285.4" stroke="#bfb888" stroke-width="0.9"/><line x1="152.5" y1="291.6" x2="171.5" y2="291.6" stroke="#bfb888" stroke-width="0.9"/><line x1="152.5" y1="297.6" x2="171.5" y2="297.6" stroke="#bfb888" stroke-width="0.9"/><line x1="172.4" y1="271" x2="172.4" y2="301" stroke="#bfb888" stroke-width="1"/><rect x="173.6" y="272.6" width="9.4" height="27" fill="#f3f1e0"/><rect x="183.2" y="273.6" width="40.4" height="18.4" rx="2.2" fill="#c8c49d"/><text class="ns" x="184.4" y="300.4" font-size="9.5" font-weight="bold" style="fill:#8f843e;font-family:'Liberation Sans',sans-serif" opacity="0.9" textLength="36" lengthAdjust="spacingAndGlyphs">lmO</text><ellipse cx="214.8" cy="297" rx="3.2" ry="2" fill="#e2b736" opacity="0.8"/><line x1="158" y1="304.2" x2="216" y2="304.2" stroke="#dfcf86" stroke-width="1.2" stroke-dasharray="1.2 2.4" opacity="0.8"/><line x1="181" y1="300" x2="181" y2="312" stroke="#e0d59c" stroke-width="0.9" opacity="0.8"/><path d="M190.6,323.6 L190.6,319 Q191,313.2 193.2,313 Q195.8,314 195.8,319.5 L195.6,323.6 Z" fill="#1d1c17"/><path d="M219.6,302 Q223.4,301 223.4,305 L223,314 Q222,318 220.4,317 Q221.6,309 219.6,302 Z" fill="#2a281f" opacity="0.85"/><g stroke="#a3a3ad" stroke-width="0.7"><line x1="182.5" y1="244.4" x2="182.5" y2="271"/><line x1="171.5" y1="244.4" x2="182.5" y2="244.4"/><line x1="173.8" y1="258.8" x2="182.5" y2="258.8"/><line x1="177" y1="251.8" x2="182.5" y2="251.8"/><line x1="177" y1="265.6" x2="182.5" y2="265.6"/></g><text class="ns" x="164.2" y="245.8" font-size="3.8" style="fill:#9696a2;font-family:'Liberation Sans',sans-serif">001</text><text class="ns" x="167.6" y="260.2" font-size="3.8" style="fill:#9696a2;font-family:'Liberation Sans',sans-serif">08</text><g fill="none" stroke="#b4b4ba" stroke-width="1.7" stroke-linecap="round"><path d="M192,249.4 C188.2,252 188.8,258.2 192.4,260.2"/><path d="M198,249.4 C201.8,252 201.2,258.2 197.6,260.2"/><path d="M195,253 L195,261.4"/></g><circle cx="195" cy="251" r="1.4" fill="#c9c9cf"/><g fill="#b9b9c2"><rect x="190" y="264" width="2" height="1.6"/><rect x="197.4" y="264" width="2" height="1.6"/><rect x="188.4" y="268.4" width="13.6" height="1.1" opacity="0.8"/></g></g><rect x="143.75" y="213.25" width="92.5" height="113.3" fill="none" stroke="#0e0e10" stroke-width="2"/>
<path d="M125,246 L135,246.3 L124.4,266.9 L134.8,287.3 L124.4,287.3 L114,266.9 Z" fill="#6a8bd0" stroke="#1a2030" stroke-width="1.2" stroke-linejoin="round"/>
<g><ellipse cx="316.1" cy="211.5" rx="32.5" ry="5" fill="#dcdce0" opacity="0.7"/><clipPath id="cpVA"><path d="M285.6,57 Q280.6,61 280.6,73 L280.6,200.5 Q281.1,212 300.6,212.5 L331.6,212.5 Q351.1,212 351.6,200.5 L351.6,73 Q351.6,61 346.6,57 Z"/></clipPath><path d="M285.6,57 Q280.6,61 280.6,73 L280.6,200.5 Q281.1,212 300.6,212.5 L331.6,212.5 Q351.1,212 351.6,200.5 L351.6,73 Q351.6,61 346.6,57 Z" fill="url(#glass)"/><g clip-path="url(#cpVA)"><rect x="280.6" y="47" width="71" height="60" fill="url(#glassV)"/><rect x="280.6" y="102.4" width="71" height="112.1" fill="url(#liqBlue)"/><ellipse cx="316.1" cy="102.4" rx="35.2" ry="10.4" fill="url(#liqSurf)"/><path d="M281.1,102.4 A35.2,10.4 0 0 0 351.1,102.4" fill="none" stroke="#eef3fb" stroke-width="0.8" opacity="0.8"/><path d="M283.6,203.5 Q284.6,210.5 299.6,210.9 L332.6,210.9 Q347.6,210.5 348.6,203.5" fill="none" stroke="#c3cee0" stroke-width="2.6" opacity="0.6"/><rect x="280.6" y="208.5" width="71" height="5" fill="#8f9ab0" opacity="0.25"/></g><circle cx="307" cy="132.5" r="4.05" fill="url(#sph)"/><circle cx="326.5" cy="142" r="4.05" fill="url(#sph)"/><circle cx="336.5" cy="147" r="4.05" fill="url(#sph)"/><circle cx="299" cy="150" r="4.05" fill="url(#sph)"/><circle cx="316" cy="154" r="4.05" fill="url(#sph)"/><circle cx="339" cy="165" r="4.05" fill="url(#sph)"/><circle cx="303" cy="167.5" r="4.05" fill="url(#sph)"/><circle cx="323" cy="170" r="4.05" fill="url(#sph)"/><circle cx="295" cy="179" r="4.05" fill="url(#sph)"/><circle cx="329" cy="181" r="4.05" fill="url(#sph)"/><circle cx="312.5" cy="186" r="4.05" fill="url(#sph)"/><circle cx="300" cy="190" r="4.05" fill="url(#sph)"/><circle cx="331" cy="193.5" r="4.05" fill="url(#sph)"/><path d="M279.7,27.5 L279.7,51 A36.4,11.9 0 0 0 352.5,51 L352.5,27.5 C352.5,20 334.3,13 316.1,13 C297.9,13 279.7,20 279.7,27.5 Z" fill="url(#capSide)"/><ellipse cx="316.1" cy="24.8" rx="32.8" ry="10.8" fill="#040404"/><path d="M284,28.5 A33.8,11.4 0 0 0 338.7,33.5" fill="none" stroke="url(#capHi)" stroke-width="2" stroke-linecap="round"/></g>
<g><ellipse cx="313.5" cy="481.5" rx="32.9" ry="5" fill="#dcdce0" opacity="0.7"/><clipPath id="cpVB"><path d="M282.6,328.5 Q277.6,332.5 277.6,344.5 L277.6,470.5 Q278.1,482 297.6,482.5 L329.4,482.5 Q348.9,482 349.4,470.5 L349.4,344.5 Q349.4,332.5 344.4,328.5 Z"/></clipPath><path d="M282.6,328.5 Q277.6,332.5 277.6,344.5 L277.6,470.5 Q278.1,482 297.6,482.5 L329.4,482.5 Q348.9,482 349.4,470.5 L349.4,344.5 Q349.4,332.5 344.4,328.5 Z" fill="url(#glass)"/><g clip-path="url(#cpVB)"><rect x="277.6" y="318.5" width="71.8" height="60" fill="url(#glassV)"/><rect x="277.6" y="403" width="71.8" height="81.5" fill="url(#liqPink)"/><path d="M277.6,371 L349.4,371 L349.4,405 A35.9,7 0 0 1 277.6,405 Z" fill="url(#liqBlue2)"/><ellipse cx="313.5" cy="371" rx="35.6" ry="9" fill="url(#liqSurf)"/><path d="M280.6,473.5 Q281.6,480.5 296.6,480.9 L330.4,480.9 Q345.4,480.5 346.4,473.5" fill="none" stroke="#c3cee0" stroke-width="2.6" opacity="0.6"/><rect x="277.6" y="478.5" width="71.8" height="5" fill="#8f9ab0" opacity="0.1"/></g><path d="M276.7,299 L276.7,322.5 A36.8,11.9 0 0 0 350.3,322.5 L350.3,299 C350.3,291.5 331.9,284.5 313.5,284.5 C295.1,284.5 276.7,291.5 276.7,299 Z" fill="url(#capSide)"/><ellipse cx="313.5" cy="296.3" rx="33.2" ry="10.8" fill="#040404"/><path d="M281,300 A34.2,11.4 0 0 0 336.4,305" fill="none" stroke="url(#capHi)" stroke-width="2" stroke-linecap="round"/></g>
<path d="M362.3,179.8 C383,180 398,188 408,200 C421,216 427.5,240 427.7,262 C427.8,285 415,306 396,316.5 C391.5,319 387,321.8 382.6,323.6 L381.9,332.7 L363,315.7 L380,299.3 L381,305.9 C388,303.5 396,300 402,295.5 C412,287 418,272 418.6,252 C419,236 414,222 407,214 C397,203.5 381,197 363.6,195.5 Z" fill="url(#purp)" stroke="#1b1626" stroke-width="1.3" stroke-linejoin="round"/>
<line x1="278.1" y1="158.8" x2="214.4" y2="112.5" stroke="#0a0a0a" stroke-width="2.3" stroke-dasharray="6.8 2.4" marker-end="url(#ah)"/>
<line x1="296.6" y1="217.7" x2="251.1" y2="248.4" stroke="#0a0a0a" stroke-width="2.3" stroke-dasharray="6.8 2.4" marker-end="url(#ah)"/>
<line x1="273.1" y1="391.9" x2="214.8" y2="435.8" stroke="#0a0a0a" stroke-width="2.3" stroke-dasharray="6.8 2.4" marker-end="url(#ah)"/>
<line x1="406.3" y1="194.6" x2="452.7" y2="141.8" stroke="#0a0a0a" stroke-width="2.3" stroke-dasharray="6.8 2.4" marker-end="url(#ah)"/>
<line x1="402.2" y1="315.4" x2="449.1" y2="368.5" stroke="#0a0a0a" stroke-width="2.3" stroke-dasharray="6.8 2.4" marker-end="url(#ah)"/>
<text class="b" x="328.5" y="235" font-size="18" textLength="54" lengthAdjust="spacingAndGlyphs">Adding</text>
<text class="b" x="328.5" y="256" font-size="18" textLength="97.5" lengthAdjust="spacingAndGlyphs">PEDA-Br or</text>
<text class="b" x="328.5" y="278.5" font-size="18" textLength="77.5" lengthAdjust="spacingAndGlyphs">GEDA-Br</text>
<rect x="459.2" y="30" width="394.4" height="469" fill="#dde7f6"/>
<g stroke="#0b0b0d" stroke-width="2.5" fill="none"><path d="M458,30 L468,30"/><path d="M475.1,30 L848,30" stroke-dasharray="8.8 7.01"/><path d="M459.2,28.8 L459.2,31.5"/><path d="M459.2,38.5 L459.2,492" stroke-dasharray="8.9 6.95"/><path d="M458,498.9 L467.6,498.9"/><path d="M474.2,498.9 L848,498.9" stroke-dasharray="8.8 7.06"/><path d="M853.6,30.4 L853.6,499.6" stroke-dasharray="9 6.86"/></g>
<g stroke="#a6a9af" stroke-width="1.2" stroke-linecap="round"><line x1="477.3" y1="97.8" x2="482.4" y2="93.4"/><line x1="482.4" y1="93.4" x2="487.7" y2="97.2"/><line x1="487.7" y1="97.2" x2="492.8" y2="92.8"/><line x1="492.8" y1="92.8" x2="498.2" y2="96.7"/><line x1="498.2" y1="96.7" x2="503.2" y2="92.3"/><line x1="503.2" y1="92.3" x2="508.6" y2="96.1"/><line x1="508.6" y1="96.1" x2="513.6" y2="91.7"/><line x1="513.6" y1="91.7" x2="519" y2="95.6"/><line x1="519" y1="95.6" x2="524" y2="91.1"/><line x1="524" y1="91.1" x2="529.4" y2="95"/><line x1="529.4" y1="95" x2="534.5" y2="90.6"/><line x1="534.5" y1="90.6" x2="539.8" y2="90.9"/><line x1="539.8" y1="90.9" x2="541.4" y2="83.9"/><line x1="541.4" y1="83.9" x2="545.1" y2="77"/><line x1="545.1" y1="77" x2="543.7" y2="71.2"/><line x1="543.7" y1="71.2" x2="547.9" y2="65.9"/><line x1="539.8" y1="90.9" x2="543.2" y2="97.8"/><line x1="543.2" y1="97.8" x2="549" y2="102.4"/><line x1="549" y1="102.4" x2="546.7" y2="109.4"/><line x1="546.7" y1="109.4" x2="547.9" y2="114"/><line x1="534.5" y1="87.4" x2="531.7" y2="82.1"/><line x1="539.8" y1="90.9" x2="549.7" y2="89"/><line x1="549.7" y1="89" x2="556" y2="83.9"/><line x1="556" y1="83.9" x2="561.7" y2="92"/><line x1="561.7" y1="92" x2="567.1" y2="89.7"/><line x1="567.1" y1="89.7" x2="572.8" y2="95.5"/><line x1="572.8" y1="95.5" x2="579.8" y2="89.7"/><line x1="579.8" y1="89.7" x2="584.9" y2="96.6"/><line x1="584.9" y1="96.6" x2="591.3" y2="92.7"/><line x1="591.3" y1="92.7" x2="596.9" y2="99.7"/><line x1="596.9" y1="99.7" x2="602.9" y2="96.6"/><line x1="596.9" y1="99.7" x2="593.6" y2="111.7"/><line x1="593.6" y1="111.7" x2="589.9" y2="119.8"/><line x1="589.9" y1="119.8" x2="589" y2="127.9"/><line x1="589" y1="127.9" x2="595.3" y2="122.1"/><line x1="595.3" y1="122.1" x2="599.9" y2="117.5"/><line x1="599.9" y1="117.5" x2="604.5" y2="112.1"/><line x1="589" y1="127.9" x2="589.5" y2="134.8"/><line x1="589.5" y1="134.8" x2="586.7" y2="140.6"/><line x1="586.7" y1="140.6" x2="589" y2="145.2"/><line x1="589" y1="127.9" x2="596.4" y2="130.2"/><line x1="596.4" y1="130.2" x2="601" y2="126.7"/><line x1="601" y1="126.7" x2="605.7" y2="120.9"/><line x1="589" y1="127.9" x2="583.7" y2="129.9"/><line x1="583.7" y1="129.9" x2="578.3" y2="127.2"/><line x1="578.3" y1="127.2" x2="572.8" y2="132.7"/><line x1="572.8" y1="132.7" x2="567.4" y2="129.9"/><line x1="567.4" y1="129.9" x2="562" y2="135.5"/><line x1="562" y1="135.5" x2="556.5" y2="132.7"/><line x1="556.5" y1="132.7" x2="551.1" y2="138.3"/><line x1="551.1" y1="138.3" x2="545.7" y2="135.5"/><line x1="545.7" y1="135.5" x2="540.2" y2="141"/><line x1="540.2" y1="141" x2="534.8" y2="138.3"/><line x1="534.8" y1="138.3" x2="529.4" y2="143.8"/><line x1="529.4" y1="143.8" x2="523.9" y2="141"/><line x1="523.9" y1="141" x2="518.5" y2="146.6"/><line x1="518.5" y1="146.6" x2="513.1" y2="143.8"/></g><g fill="#f7f7f9" stroke="#c3c7cf" stroke-width="0.35"><circle cx="475.5" cy="101.3" r="1.8"/><circle cx="479.2" cy="101.5" r="1.8"/><circle cx="480.6" cy="89.9" r="1.8"/><circle cx="484.3" cy="89.7" r="1.8"/><circle cx="485.9" cy="100.7" r="1.8"/><circle cx="489.6" cy="100.9" r="1.8"/><circle cx="491" cy="89.3" r="1.8"/><circle cx="494.7" cy="89.1" r="1.8"/><circle cx="496.3" cy="100.2" r="1.8"/><circle cx="500" cy="100.4" r="1.8"/><circle cx="501.4" cy="88.8" r="1.8"/><circle cx="505.1" cy="88.6" r="1.8"/><circle cx="506.7" cy="99.6" r="1.8"/><circle cx="510.4" cy="99.8" r="1.8"/><circle cx="511.8" cy="88.2" r="1.8"/><circle cx="515.5" cy="88" r="1.8"/><circle cx="517.1" cy="99.1" r="1.8"/><circle cx="520.8" cy="99.3" r="1.8"/><circle cx="522.2" cy="87.7" r="1.8"/><circle cx="525.9" cy="87.4" r="1.8"/><circle cx="527.5" cy="98.5" r="1.8"/><circle cx="531.2" cy="98.7" r="1.8"/><circle cx="532.6" cy="87.1" r="1.8"/><circle cx="536.3" cy="86.9" r="1.8"/><circle cx="474.3" cy="95.5" r="1.8"/><circle cx="476.2" cy="100.1" r="1.8"/><circle cx="538.2" cy="83.5" r="1.8"/><circle cx="544.6" cy="84.6" r="1.8"/><circle cx="541.8" cy="76.5" r="1.8"/><circle cx="548.3" cy="77.7" r="1.8"/><circle cx="540.5" cy="70.8" r="1.8"/><circle cx="546.9" cy="71.9" r="1.8"/><circle cx="544.6" cy="65.4" r="1.8"/><circle cx="551.1" cy="66.6" r="1.8"/><circle cx="546.7" cy="62" r="1.8"/><circle cx="551.3" cy="65" r="1.8"/><circle cx="540" cy="98.3" r="1.8"/><circle cx="546.5" cy="97.1" r="1.8"/><circle cx="545.8" cy="102.9" r="1.8"/><circle cx="552.3" cy="101.7" r="1.8"/><circle cx="543.5" cy="109.8" r="1.8"/><circle cx="549.9" cy="108.7" r="1.8"/><circle cx="544.6" cy="114.5" r="1.8"/><circle cx="551.1" cy="113.3" r="1.8"/><circle cx="554.6" cy="80.9" r="1.8"/><circle cx="557.6" cy="81.2" r="1.8"/><circle cx="560.3" cy="89" r="1.8"/><circle cx="563.4" cy="89.2" r="1.8"/><circle cx="571.4" cy="98.5" r="1.8"/><circle cx="574.5" cy="98.3" r="1.8"/><circle cx="578.4" cy="86.7" r="1.8"/><circle cx="581.4" cy="86.9" r="1.8"/><circle cx="589.9" cy="89.7" r="1.8"/><circle cx="592.9" cy="89.9" r="1.8"/><circle cx="595.5" cy="102.7" r="1.8"/><circle cx="598.5" cy="102.4" r="1.8"/><circle cx="592.9" cy="119.8" r="1.8"/><circle cx="598" cy="123.9" r="1.8"/><circle cx="597.6" cy="115.1" r="1.8"/><circle cx="602.7" cy="119.3" r="1.8"/><circle cx="602.2" cy="109.8" r="1.8"/><circle cx="607.3" cy="114" r="1.8"/><circle cx="586.2" cy="135.3" r="1.8"/><circle cx="592.7" cy="135.3" r="1.8"/><circle cx="583.5" cy="141" r="1.8"/><circle cx="589.9" cy="141" r="1.8"/><circle cx="585.8" cy="145.7" r="1.8"/><circle cx="592.3" cy="145.7" r="1.8"/><circle cx="598.7" cy="132.5" r="1.8"/><circle cx="603.4" cy="129" r="1.8"/><circle cx="608" cy="123.2" r="1.8"/><circle cx="581.8" cy="133.4" r="1.8"/><circle cx="585.5" cy="133.6" r="1.8"/><circle cx="576.4" cy="123.7" r="1.8"/><circle cx="580.1" cy="123.5" r="1.8"/><circle cx="571" cy="136.2" r="1.8"/><circle cx="574.7" cy="136.4" r="1.8"/><circle cx="565.5" cy="126.5" r="1.8"/><circle cx="569.2" cy="126.2" r="1.8"/><circle cx="560.1" cy="139" r="1.8"/><circle cx="563.8" cy="139.2" r="1.8"/><circle cx="554.7" cy="129.2" r="1.8"/><circle cx="558.4" cy="129" r="1.8"/><circle cx="549.2" cy="141.7" r="1.8"/><circle cx="552.9" cy="142" r="1.8"/><circle cx="543.8" cy="132" r="1.8"/><circle cx="547.5" cy="131.8" r="1.8"/><circle cx="538.4" cy="144.5" r="1.8"/><circle cx="542.1" cy="144.7" r="1.8"/><circle cx="532.9" cy="134.8" r="1.8"/><circle cx="536.6" cy="134.6" r="1.8"/><circle cx="527.5" cy="147.3" r="1.8"/><circle cx="531.2" cy="147.5" r="1.8"/><circle cx="522.1" cy="137.6" r="1.8"/><circle cx="525.8" cy="137.3" r="1.8"/><circle cx="516.6" cy="150.1" r="1.8"/><circle cx="520.3" cy="150.3" r="1.8"/><circle cx="511.2" cy="140.3" r="1.8"/><circle cx="514.9" cy="140.1" r="1.8"/><circle cx="510.4" cy="148.2" r="1.8"/><circle cx="513.6" cy="143.6" r="1.8"/></g><g fill="#a3a6ac"><circle cx="477.3" cy="97.8" r="1.75"/><circle cx="482.4" cy="93.4" r="1.75"/><circle cx="487.7" cy="97.2" r="1.75"/><circle cx="492.8" cy="92.8" r="1.75"/><circle cx="498.2" cy="96.7" r="1.75"/><circle cx="503.2" cy="92.3" r="1.75"/><circle cx="508.6" cy="96.1" r="1.75"/><circle cx="513.6" cy="91.7" r="1.75"/><circle cx="519" cy="95.6" r="1.75"/><circle cx="524" cy="91.1" r="1.75"/><circle cx="529.4" cy="95" r="1.75"/><circle cx="534.5" cy="90.6" r="1.75"/><circle cx="539.8" cy="90.9" r="1.75"/><circle cx="541.4" cy="83.9" r="1.75"/><circle cx="545.1" cy="77" r="1.75"/><circle cx="543.7" cy="71.2" r="1.75"/><circle cx="547.9" cy="65.9" r="1.75"/><circle cx="539.8" cy="90.9" r="1.75"/><circle cx="543.2" cy="97.8" r="1.75"/><circle cx="549" cy="102.4" r="1.75"/><circle cx="546.7" cy="109.4" r="1.75"/><circle cx="547.9" cy="114" r="1.75"/><circle cx="556" cy="83.9" r="1.75"/><circle cx="561.7" cy="92" r="1.75"/><circle cx="572.8" cy="95.5" r="1.75"/><circle cx="579.8" cy="89.7" r="1.75"/><circle cx="591.3" cy="92.7" r="1.75"/><circle cx="596.9" cy="99.7" r="1.75"/><circle cx="589.9" cy="119.8" r="1.75"/><circle cx="589" cy="127.9" r="1.75"/><circle cx="595.3" cy="122.1" r="1.75"/><circle cx="599.9" cy="117.5" r="1.75"/><circle cx="604.5" cy="112.1" r="1.75"/><circle cx="589" cy="127.9" r="1.75"/><circle cx="589.5" cy="134.8" r="1.75"/><circle cx="586.7" cy="140.6" r="1.75"/><circle cx="589" cy="145.2" r="1.75"/><circle cx="589" cy="127.9" r="1.75"/><circle cx="596.4" cy="130.2" r="1.75"/><circle cx="601" cy="126.7" r="1.75"/><circle cx="605.7" cy="120.9" r="1.75"/><circle cx="583.7" cy="129.9" r="1.75"/><circle cx="578.3" cy="127.2" r="1.75"/><circle cx="572.8" cy="132.7" r="1.75"/><circle cx="567.4" cy="129.9" r="1.75"/><circle cx="562" cy="135.5" r="1.75"/><circle cx="556.5" cy="132.7" r="1.75"/><circle cx="551.1" cy="138.3" r="1.75"/><circle cx="545.7" cy="135.5" r="1.75"/><circle cx="540.2" cy="141" r="1.75"/><circle cx="534.8" cy="138.3" r="1.75"/><circle cx="529.4" cy="143.8" r="1.75"/><circle cx="523.9" cy="141" r="1.75"/><circle cx="518.5" cy="146.6" r="1.75"/><circle cx="513.1" cy="143.8" r="1.75"/></g><g fill="#e0272b"><circle cx="531.7" cy="82.1" r="1.7"/><circle cx="549.7" cy="89" r="1.7"/><circle cx="567.1" cy="89.7" r="1.7"/><circle cx="584.9" cy="96.6" r="1.7"/><circle cx="602.9" cy="96.6" r="1.7"/><circle cx="593.6" cy="111.7" r="1.7"/></g><g fill="#2240c8"><circle cx="539.8" cy="90.9" r="1.9"/><circle cx="589" cy="127.9" r="1.9"/></g>
<g stroke="#a6a9af" stroke-width="1.2" stroke-linecap="round"><line x1="831.7" y1="97.8" x2="826.6" y2="93.4"/><line x1="826.6" y1="93.4" x2="821.3" y2="97.2"/><line x1="821.3" y1="97.2" x2="816.2" y2="92.8"/><line x1="816.2" y1="92.8" x2="810.8" y2="96.7"/><line x1="810.8" y1="96.7" x2="805.8" y2="92.3"/><line x1="805.8" y1="92.3" x2="800.4" y2="96.1"/><line x1="800.4" y1="96.1" x2="795.4" y2="91.7"/><line x1="795.4" y1="91.7" x2="790" y2="95.6"/><line x1="790" y1="95.6" x2="785" y2="91.1"/><line x1="785" y1="91.1" x2="779.6" y2="95"/><line x1="779.6" y1="95" x2="774.5" y2="90.6"/><line x1="774.5" y1="90.6" x2="769.2" y2="90.9"/><line x1="769.2" y1="90.9" x2="767.6" y2="83.9"/><line x1="767.6" y1="83.9" x2="763.9" y2="77"/><line x1="763.9" y1="77" x2="765.3" y2="71.2"/><line x1="765.3" y1="71.2" x2="761.1" y2="65.9"/><line x1="769.2" y1="90.9" x2="765.8" y2="97.8"/><line x1="765.8" y1="97.8" x2="760" y2="102.4"/><line x1="760" y1="102.4" x2="762.3" y2="109.4"/><line x1="762.3" y1="109.4" x2="761.1" y2="114"/><line x1="774.5" y1="87.4" x2="777.3" y2="82.1"/><line x1="769.2" y1="90.9" x2="759.3" y2="89"/><line x1="759.3" y1="89" x2="753" y2="83.9"/><line x1="753" y1="83.9" x2="747.3" y2="92"/><line x1="747.3" y1="92" x2="741.9" y2="89.7"/><line x1="741.9" y1="89.7" x2="736.2" y2="95.5"/><line x1="736.2" y1="95.5" x2="729.2" y2="89.7"/><line x1="729.2" y1="89.7" x2="724.1" y2="96.6"/><line x1="724.1" y1="96.6" x2="717.7" y2="92.7"/><line x1="717.7" y1="92.7" x2="712.1" y2="99.7"/><line x1="712.1" y1="99.7" x2="706.1" y2="96.6"/><line x1="712.1" y1="99.7" x2="715.4" y2="111.7"/><line x1="715.4" y1="111.7" x2="719.1" y2="119.8"/><line x1="719.1" y1="119.8" x2="720" y2="127.9"/><line x1="720" y1="127.9" x2="713.7" y2="122.1"/><line x1="713.7" y1="122.1" x2="709.1" y2="117.5"/><line x1="709.1" y1="117.5" x2="704.5" y2="112.1"/><line x1="720" y1="127.9" x2="719.5" y2="134.8"/><line x1="719.5" y1="134.8" x2="722.3" y2="140.6"/><line x1="722.3" y1="140.6" x2="720" y2="145.2"/><line x1="720" y1="127.9" x2="712.6" y2="130.2"/><line x1="712.6" y1="130.2" x2="708" y2="126.7"/><line x1="708" y1="126.7" x2="703.3" y2="120.9"/><line x1="720" y1="127.9" x2="725.3" y2="129.9"/><line x1="725.3" y1="129.9" x2="730.7" y2="127.2"/><line x1="730.7" y1="127.2" x2="736.2" y2="132.7"/><line x1="736.2" y1="132.7" x2="741.6" y2="129.9"/><line x1="741.6" y1="129.9" x2="747" y2="135.5"/><line x1="747" y1="135.5" x2="752.5" y2="132.7"/><line x1="752.5" y1="132.7" x2="757.9" y2="138.3"/><line x1="757.9" y1="138.3" x2="763.3" y2="135.5"/><line x1="763.3" y1="135.5" x2="768.8" y2="141"/><line x1="768.8" y1="141" x2="774.2" y2="138.3"/><line x1="774.2" y1="138.3" x2="779.6" y2="143.8"/><line x1="779.6" y1="143.8" x2="785.1" y2="141"/><line x1="785.1" y1="141" x2="790.5" y2="146.6"/><line x1="790.5" y1="146.6" x2="795.9" y2="143.8"/></g><g fill="#f7f7f9" stroke="#c3c7cf" stroke-width="0.35"><circle cx="833.5" cy="101.3" r="1.8"/><circle cx="829.8" cy="101.5" r="1.8"/><circle cx="828.4" cy="89.9" r="1.8"/><circle cx="824.7" cy="89.7" r="1.8"/><circle cx="823.1" cy="100.7" r="1.8"/><circle cx="819.4" cy="100.9" r="1.8"/><circle cx="818" cy="89.3" r="1.8"/><circle cx="814.3" cy="89.1" r="1.8"/><circle cx="812.7" cy="100.2" r="1.8"/><circle cx="809" cy="100.4" r="1.8"/><circle cx="807.6" cy="88.8" r="1.8"/><circle cx="803.9" cy="88.6" r="1.8"/><circle cx="802.3" cy="99.6" r="1.8"/><circle cx="798.6" cy="99.8" r="1.8"/><circle cx="797.2" cy="88.2" r="1.8"/><circle cx="793.5" cy="88" r="1.8"/><circle cx="791.9" cy="99.1" r="1.8"/><circle cx="788.2" cy="99.3" r="1.8"/><circle cx="786.8" cy="87.7" r="1.8"/><circle cx="783.1" cy="87.4" r="1.8"/><circle cx="781.5" cy="98.5" r="1.8"/><circle cx="777.8" cy="98.7" r="1.8"/><circle cx="776.4" cy="87.1" r="1.8"/><circle cx="772.7" cy="86.9" r="1.8"/><circle cx="834.7" cy="95.5" r="1.8"/><circle cx="832.8" cy="100.1" r="1.8"/><circle cx="770.8" cy="83.5" r="1.8"/><circle cx="764.4" cy="84.6" r="1.8"/><circle cx="767.2" cy="76.5" r="1.8"/><circle cx="760.7" cy="77.7" r="1.8"/><circle cx="768.5" cy="70.8" r="1.8"/><circle cx="762.1" cy="71.9" r="1.8"/><circle cx="764.4" cy="65.4" r="1.8"/><circle cx="757.9" cy="66.6" r="1.8"/><circle cx="762.3" cy="62" r="1.8"/><circle cx="757.7" cy="65" r="1.8"/><circle cx="769" cy="98.3" r="1.8"/><circle cx="762.5" cy="97.1" r="1.8"/><circle cx="763.2" cy="102.9" r="1.8"/><circle cx="756.7" cy="101.7" r="1.8"/><circle cx="765.5" cy="109.8" r="1.8"/><circle cx="759.1" cy="108.7" r="1.8"/><circle cx="764.4" cy="114.5" r="1.8"/><circle cx="757.9" cy="113.3" r="1.8"/><circle cx="754.4" cy="80.9" r="1.8"/><circle cx="751.4" cy="81.2" r="1.8"/><circle cx="748.7" cy="89" r="1.8"/><circle cx="745.6" cy="89.2" r="1.8"/><circle cx="737.6" cy="98.5" r="1.8"/><circle cx="734.5" cy="98.3" r="1.8"/><circle cx="730.6" cy="86.7" r="1.8"/><circle cx="727.6" cy="86.9" r="1.8"/><circle cx="719.1" cy="89.7" r="1.8"/><circle cx="716.1" cy="89.9" r="1.8"/><circle cx="713.5" cy="102.7" r="1.8"/><circle cx="710.5" cy="102.4" r="1.8"/><circle cx="716.1" cy="119.8" r="1.8"/><circle cx="711" cy="123.9" r="1.8"/><circle cx="711.4" cy="115.1" r="1.8"/><circle cx="706.3" cy="119.3" r="1.8"/><circle cx="706.8" cy="109.8" r="1.8"/><circle cx="701.7" cy="114" r="1.8"/><circle cx="722.8" cy="135.3" r="1.8"/><circle cx="716.3" cy="135.3" r="1.8"/><circle cx="725.5" cy="141" r="1.8"/><circle cx="719.1" cy="141" r="1.8"/><circle cx="723.2" cy="145.7" r="1.8"/><circle cx="716.7" cy="145.7" r="1.8"/><circle cx="710.3" cy="132.5" r="1.8"/><circle cx="705.6" cy="129" r="1.8"/><circle cx="701" cy="123.2" r="1.8"/><circle cx="727.2" cy="133.4" r="1.8"/><circle cx="723.5" cy="133.6" r="1.8"/><circle cx="732.6" cy="123.7" r="1.8"/><circle cx="728.9" cy="123.5" r="1.8"/><circle cx="738" cy="136.2" r="1.8"/><circle cx="734.3" cy="136.4" r="1.8"/><circle cx="743.5" cy="126.5" r="1.8"/><circle cx="739.8" cy="126.2" r="1.8"/><circle cx="748.9" cy="139" r="1.8"/><circle cx="745.2" cy="139.2" r="1.8"/><circle cx="754.3" cy="129.2" r="1.8"/><circle cx="750.6" cy="129" r="1.8"/><circle cx="759.8" cy="141.7" r="1.8"/><circle cx="756.1" cy="142" r="1.8"/><circle cx="765.2" cy="132" r="1.8"/><circle cx="761.5" cy="131.8" r="1.8"/><circle cx="770.6" cy="144.5" r="1.8"/><circle cx="766.9" cy="144.7" r="1.8"/><circle cx="776.1" cy="134.8" r="1.8"/><circle cx="772.4" cy="134.6" r="1.8"/><circle cx="781.5" cy="147.3" r="1.8"/><circle cx="777.8" cy="147.5" r="1.8"/><circle cx="786.9" cy="137.6" r="1.8"/><circle cx="783.2" cy="137.3" r="1.8"/><circle cx="792.4" cy="150.1" r="1.8"/><circle cx="788.7" cy="150.3" r="1.8"/><circle cx="797.8" cy="140.3" r="1.8"/><circle cx="794.1" cy="140.1" r="1.8"/><circle cx="798.6" cy="148.2" r="1.8"/><circle cx="795.4" cy="143.6" r="1.8"/></g><g fill="#a3a6ac"><circle cx="831.7" cy="97.8" r="1.75"/><circle cx="826.6" cy="93.4" r="1.75"/><circle cx="821.3" cy="97.2" r="1.75"/><circle cx="816.2" cy="92.8" r="1.75"/><circle cx="810.8" cy="96.7" r="1.75"/><circle cx="805.8" cy="92.3" r="1.75"/><circle cx="800.4" cy="96.1" r="1.75"/><circle cx="795.4" cy="91.7" r="1.75"/><circle cx="790" cy="95.6" r="1.75"/><circle cx="785" cy="91.1" r="1.75"/><circle cx="779.6" cy="95" r="1.75"/><circle cx="774.5" cy="90.6" r="1.75"/><circle cx="769.2" cy="90.9" r="1.75"/><circle cx="767.6" cy="83.9" r="1.75"/><circle cx="763.9" cy="77" r="1.75"/><circle cx="765.3" cy="71.2" r="1.75"/><circle cx="761.1" cy="65.9" r="1.75"/><circle cx="769.2" cy="90.9" r="1.75"/><circle cx="765.8" cy="97.8" r="1.75"/><circle cx="760" cy="102.4" r="1.75"/><circle cx="762.3" cy="109.4" r="1.75"/><circle cx="761.1" cy="114" r="1.75"/><circle cx="753" cy="83.9" r="1.75"/><circle cx="747.3" cy="92" r="1.75"/><circle cx="736.2" cy="95.5" r="1.75"/><circle cx="729.2" cy="89.7" r="1.75"/><circle cx="717.7" cy="92.7" r="1.75"/><circle cx="712.1" cy="99.7" r="1.75"/><circle cx="719.1" cy="119.8" r="1.75"/><circle cx="720" cy="127.9" r="1.75"/><circle cx="713.7" cy="122.1" r="1.75"/><circle cx="709.1" cy="117.5" r="1.75"/><circle cx="704.5" cy="112.1" r="1.75"/><circle cx="720" cy="127.9" r="1.75"/><circle cx="719.5" cy="134.8" r="1.75"/><circle cx="722.3" cy="140.6" r="1.75"/><circle cx="720" cy="145.2" r="1.75"/><circle cx="720" cy="127.9" r="1.75"/><circle cx="712.6" cy="130.2" r="1.75"/><circle cx="708" cy="126.7" r="1.75"/><circle cx="703.3" cy="120.9" r="1.75"/><circle cx="725.3" cy="129.9" r="1.75"/><circle cx="730.7" cy="127.2" r="1.75"/><circle cx="736.2" cy="132.7" r="1.75"/><circle cx="741.6" cy="129.9" r="1.75"/><circle cx="747" cy="135.5" r="1.75"/><circle cx="752.5" cy="132.7" r="1.75"/><circle cx="757.9" cy="138.3" r="1.75"/><circle cx="763.3" cy="135.5" r="1.75"/><circle cx="768.8" cy="141" r="1.75"/><circle cx="774.2" cy="138.3" r="1.75"/><circle cx="779.6" cy="143.8" r="1.75"/><circle cx="785.1" cy="141" r="1.75"/><circle cx="790.5" cy="146.6" r="1.75"/><circle cx="795.9" cy="143.8" r="1.75"/></g><g fill="#e0272b"><circle cx="777.3" cy="82.1" r="1.7"/><circle cx="759.3" cy="89" r="1.7"/><circle cx="741.9" cy="89.7" r="1.7"/><circle cx="724.1" cy="96.6" r="1.7"/><circle cx="706.1" cy="96.6" r="1.7"/><circle cx="715.4" cy="111.7" r="1.7"/></g><g fill="#2240c8"><circle cx="769.2" cy="90.9" r="1.9"/><circle cx="720" cy="127.9" r="1.9"/></g>
<ellipse cx="654.2" cy="116.3" rx="40.4" ry="37.6" fill="#f4c7d6"/><ellipse cx="654" cy="116.3" rx="33" ry="30.4" fill="#f2f2f3"/>
<text x="634.5" y="123.8" font-size="18" textLength="40" lengthAdjust="spacingAndGlyphs" class="w">water</text>
<text x="642.2" y="58.4" font-size="15.5" textLength="84.3" lengthAdjust="spacingAndGlyphs">interface film</text>
<text x="477" y="179.4" font-size="17.5" textLength="62.6" lengthAdjust="spacingAndGlyphs">PEDA-Br</text>
<g fill="none" stroke="#4d4d4f" stroke-width="1.9" stroke-linecap="round"><path d="M671,85 L681.5,63" marker-end="url(#ag)"/><path d="M590.5,86 C597,76 613,73 625.5,84.5" marker-end="url(#ag)"/><path d="M725,91 C718,80 702,77 690,86" marker-end="url(#ag)"/><path d="M507.4,136.6 L494,157.5" marker-end="url(#ag)"/></g>
<g fill="#a5afc6"><path d="M618.8,156.5 C601,163 589,176 584.5,190.5 L573,188.3 L589.6,208.7 L608.7,193.4 L598,192 C600,178 607,166 618.8,156.5 Z"/><path d="M690,156.5 C708,163 719.5,176 723,190.5 L733,188.3 L718,208.2 L699,192.4 L710,192 C708,178 701,166 690,156.5 Z"/><path d="M569,315.4 C563,335 566,352 576.6,365 L567.7,370.9 L592.4,371.4 L591.9,346.5 L585.5,356.6 C578,346 573,333 569,315.4 Z"/><path d="M745.5,314.2 C757,328 761,345 757.5,361.2 L764.6,365.8 L740.5,373.4 L733.6,350.5 L745.5,356.6 C750,344 749.5,330 745.5,314.2 Z"/></g>
<circle cx="557" cy="258.5" r="48" fill="#f4c7d6"/><circle cx="555" cy="258" r="24" fill="#f2f2f3"/><g stroke="#80849c" stroke-width="0.55" fill="none" opacity="0.6"><line x1="577.5" y1="257.8" x2="598.5" y2="257.7"/><line x1="584.9" y1="255.4" x2="588.7" y2="260.1"/><line x1="584.9" y1="260.1" x2="588.6" y2="255.4"/><line x1="576.6" y1="264.4" x2="597.4" y2="270.3"/><line x1="584.6" y1="264.3" x2="586.9" y2="269.9"/><line x1="583.3" y1="268.8" x2="588.2" y2="265.3"/><line x1="573.7" y1="270.6" x2="591.8" y2="281.6"/><line x1="580.3" y1="272.2" x2="580.8" y2="278.2"/><line x1="577.7" y1="276.1" x2="583.4" y2="274.3"/><line x1="570.8" y1="274" x2="583.4" y2="288"/><line x1="575.9" y1="275.8" x2="575.2" y2="281.8"/><line x1="572.6" y1="279.1" x2="578.5" y2="278.5"/><line x1="562.7" y1="279.1" x2="568" y2="296.7"/><line x1="567.8" y1="286.1" x2="564.7" y2="291.3"/><line x1="563.4" y1="287.8" x2="569.1" y2="289.6"/><line x1="559.4" y1="280.1" x2="563.9" y2="304"/><line x1="562.7" y1="284.5" x2="558.8" y2="289.1"/><line x1="558.1" y1="285.4" x2="563.4" y2="288.2"/><line x1="552.9" y1="280.4" x2="555" y2="303.4"/><line x1="554.6" y1="288" x2="549.5" y2="291.3"/><line x1="549.9" y1="287.6" x2="554.2" y2="291.7"/><line x1="545.8" y1="278.6" x2="537.8" y2="296.3"/><line x1="544.5" y1="287.3" x2="538.7" y2="288.8"/><line x1="540.3" y1="285.3" x2="543" y2="290.7"/><line x1="540.3" y1="275" x2="527.1" y2="290.5"/><line x1="537.9" y1="281.3" x2="531.9" y2="281"/><line x1="534.4" y1="278.2" x2="535.5" y2="284.1"/><line x1="535.2" y1="268.6" x2="517.6" y2="277.4"/><line x1="528.4" y1="274.9" x2="522.9" y2="272.5"/><line x1="526.2" y1="270.7" x2="525.2" y2="276.6"/><line x1="533.6" y1="265" x2="512.3" y2="272.1"/><line x1="529.5" y1="268.8" x2="524.5" y2="265.5"/><line x1="528.1" y1="264.3" x2="526" y2="269.9"/><line x1="532.5" y1="257" x2="510.7" y2="256.1"/><line x1="525.5" y1="259.1" x2="521.9" y2="254.2"/><line x1="525.7" y1="254.4" x2="521.7" y2="258.9"/><line x1="533.9" y1="250.1" x2="514.5" y2="243.3"/><line x1="527.6" y1="250.2" x2="525.7" y2="244.5"/><line x1="529.2" y1="245.8" x2="524.1" y2="248.9"/><line x1="536.9" y1="244.6" x2="522.2" y2="231.7"/><line x1="529.9" y1="242.3" x2="529.7" y2="236.3"/><line x1="532.7" y1="238.6" x2="526.9" y2="240.1"/><line x1="539.1" y1="242" x2="526.3" y2="227.3"/><line x1="533.1" y1="239.3" x2="533.8" y2="233.3"/><line x1="536.4" y1="235.9" x2="530.4" y2="236.6"/><line x1="544.3" y1="238.2" x2="537.4" y2="218.4"/><line x1="537.9" y1="231.2" x2="540.3" y2="225.7"/><line x1="542" y1="229" x2="536.1" y2="227.9"/><line x1="550.4" y1="236" x2="542.3" y2="213.4"/><line x1="547.1" y1="231.6" x2="551" y2="226.9"/><line x1="551.7" y1="230.6" x2="546.4" y2="227.9"/><line x1="559.3" y1="235.9" x2="564.2" y2="212.9"/><line x1="558.3" y1="228.3" x2="563.7" y2="225.5"/><line x1="562.9" y1="229.2" x2="559" y2="224.6"/><line x1="563.3" y1="237.1" x2="567.8" y2="218.4"/><line x1="564.3" y1="228.3" x2="570" y2="226.6"/><line x1="568.6" y1="230.1" x2="565.7" y2="224.9"/><line x1="568.7" y1="240.1" x2="579.9" y2="222.7"/><line x1="570.6" y1="233.7" x2="576.6" y2="233.6"/><line x1="574.3" y1="236.6" x2="572.9" y2="230.8"/><line x1="574.8" y1="247.3" x2="591.3" y2="237.9"/><line x1="582.4" y1="240.5" x2="587.9" y2="242.9"/><line x1="584.7" y1="244.6" x2="585.7" y2="238.7"/><line x1="576.3" y1="250.7" x2="598.1" y2="243.5"/><line x1="583.5" y1="245.7" x2="588.6" y2="248.9"/><line x1="585.1" y1="250.1" x2="587.1" y2="244.5"/></g><circle cx="555" cy="258" r="23.5" fill="none" stroke="#9aa6c8" stroke-width="1.1" stroke-dasharray="1 2.2" opacity="0.8"/><circle cx="555" cy="258" r="22.5" fill="none" stroke="#e59a8e" stroke-width="0.9" stroke-dasharray="0.8 4.1" opacity="0.8"/>
<circle cx="757" cy="259.2" r="48.6" fill="#f4c7d6"/><circle cx="755.5" cy="260.2" r="24" fill="#f2f2f3"/><g stroke="#80849c" stroke-width="0.55" fill="none" opacity="0.6"><line x1="778" y1="260.1" x2="799.1" y2="260"/><line x1="783.5" y1="257.7" x2="787.2" y2="262.4"/><line x1="783.5" y1="262.4" x2="787.2" y2="257.7"/><line x1="777.5" y1="264.8" x2="800.3" y2="269.5"/><line x1="787.3" y1="264.5" x2="790" y2="269.9"/><line x1="786.3" y1="269.1" x2="790.9" y2="265.3"/><line x1="774" y1="272.9" x2="791.5" y2="285.1"/><line x1="782.5" y1="275.9" x2="782.9" y2="281.9"/><line x1="779.8" y1="279.7" x2="785.5" y2="278"/><line x1="771.2" y1="276.3" x2="788.9" y2="292.5"/><line x1="779.9" y1="281.9" x2="779.1" y2="287.9"/><line x1="776.5" y1="285.2" x2="782.5" y2="284.6"/><line x1="766.3" y1="280" x2="779" y2="297.7"/><line x1="772.5" y1="286.5" x2="770.2" y2="292"/><line x1="768.4" y1="288.8" x2="774.3" y2="289.8"/><line x1="759.3" y1="282.4" x2="760" y2="304.7"/><line x1="762.4" y1="286.7" x2="758.4" y2="291.1"/><line x1="757.8" y1="287.5" x2="763" y2="290.3"/><line x1="753.9" y1="282.6" x2="752.4" y2="302.2"/><line x1="755.8" y1="288" x2="750.9" y2="291.4"/><line x1="751.2" y1="287.6" x2="755.6" y2="291.7"/><line x1="744.6" y1="279.9" x2="738.1" y2="296.9"/><line x1="743.2" y1="287.3" x2="737.2" y2="288.3"/><line x1="739.1" y1="285" x2="741.4" y2="290.6"/><line x1="741.8" y1="278" x2="726.8" y2="296.4"/><line x1="740.2" y1="283.9" x2="734.2" y2="284"/><line x1="736.5" y1="281.1" x2="737.9" y2="286.9"/><line x1="736.2" y1="271.8" x2="716.6" y2="284.5"/><line x1="729.2" y1="278.7" x2="723.6" y2="276.6"/><line x1="726.8" y1="274.6" x2="726" y2="280.6"/><line x1="734" y1="266.9" x2="712.2" y2="273.6"/><line x1="727.6" y1="271.4" x2="722.6" y2="268"/><line x1="726.2" y1="266.9" x2="724" y2="272.5"/><line x1="733" y1="260.6" x2="708.1" y2="261.1"/><line x1="722.6" y1="263.2" x2="718.8" y2="258.5"/><line x1="722.5" y1="258.5" x2="718.9" y2="263.2"/><line x1="734.5" y1="252.2" x2="714.3" y2="244.8"/><line x1="727.3" y1="252" x2="725.4" y2="246.3"/><line x1="728.9" y1="247.6" x2="723.8" y2="250.7"/><line x1="737" y1="247.5" x2="717.8" y2="235.5"/><line x1="730.6" y1="246" x2="730.2" y2="240"/><line x1="733.3" y1="242.1" x2="727.6" y2="243.9"/><line x1="740.4" y1="243.5" x2="727.7" y2="227.2"/><line x1="733.5" y1="239.4" x2="734.5" y2="233.5"/><line x1="737" y1="236.3" x2="731" y2="236.7"/><line x1="744.6" y1="240.5" x2="734.4" y2="222.8"/><line x1="738.8" y1="234.8" x2="741.2" y2="229.3"/><line x1="743" y1="232.6" x2="737" y2="231.6"/><line x1="751.3" y1="238.1" x2="746.1" y2="216"/><line x1="747.3" y1="229.4" x2="751.2" y2="224.9"/><line x1="751.9" y1="228.6" x2="746.6" y2="225.8"/><line x1="757.3" y1="237.8" x2="756.2" y2="216"/><line x1="755.6" y1="228.8" x2="760.6" y2="225.5"/><line x1="760.3" y1="229.2" x2="755.9" y2="225.1"/><line x1="763.3" y1="239.1" x2="770.1" y2="217.1"/><line x1="764" y1="230.4" x2="769.7" y2="228.5"/><line x1="768.4" y1="232" x2="765.3" y2="226.9"/><line x1="769" y1="242.2" x2="780.2" y2="224.3"/><line x1="770.9" y1="235.7" x2="776.9" y2="235.5"/><line x1="774.7" y1="238.5" x2="773.1" y2="232.7"/><line x1="774.4" y1="248" x2="790.5" y2="237.4"/><line x1="781.8" y1="240.4" x2="787.5" y2="242.3"/><line x1="784.4" y1="244.3" x2="784.9" y2="238.3"/><line x1="776.7" y1="252.7" x2="794.8" y2="246.2"/><line x1="781.4" y1="248.6" x2="786.5" y2="251.8"/><line x1="782.9" y1="253" x2="784.9" y2="247.3"/></g><circle cx="755.5" cy="260.2" r="23.5" fill="none" stroke="#9aa6c8" stroke-width="1.1" stroke-dasharray="1 2.2" opacity="0.8"/><circle cx="755.5" cy="260.2" r="22.5" fill="none" stroke="#e59a8e" stroke-width="0.9" stroke-dasharray="0.8 4.1" opacity="0.8"/>
<text x="537" y="261.3" font-size="15" textLength="33" lengthAdjust="spacingAndGlyphs" class="w">water</text>
<text x="738" y="265" font-size="15" textLength="33" lengthAdjust="spacingAndGlyphs" class="w">water</text>
<g fill="none" stroke="#a48acb" stroke-width="1.4" stroke-linecap="round"><path d="M590,286 L610.5,299.7" marker-end="url(#ap)"/><path d="M720,282.5 L700.5,298.4" marker-end="url(#ap)"/></g>
<text x="597" y="325.6" font-size="17" textLength="139" lengthAdjust="spacingAndGlyphs">New composite film</text>
<text x="498.3" y="373.4" font-size="15.5" textLength="65.7" lengthAdjust="spacingAndGlyphs">Heating or</text>
<text x="498.3" y="391.2" font-size="15.5" textLength="47.3" lengthAdjust="spacingAndGlyphs">shaking</text>
<g><circle cx="590.5" cy="423.5" r="33" fill="#f4c7d6"/><circle cx="634.5" cy="425.5" r="33" fill="#f4c7d6"/><circle cx="597.5" cy="424" r="22.8" fill="#f2f2f3"/><circle cx="630.3" cy="425" r="22.8" fill="#f2f2f3"/><path d="M596.9,443.6 L629.7,444.6 L630.9,405.4 L598.1,404.4 Z" fill="#f2f2f3"/><g stroke="#80849c" stroke-width="0.55" fill="none" opacity="0.6"><line x1="607.4" y1="444.1" x2="599.5" y2="449"/><line x1="608.4" y1="441.5" x2="606.5" y2="446.8"/><line x1="604.8" y1="443.3" x2="610.1" y2="445"/><line x1="600.2" y1="447.6" x2="591.4" y2="455"/><line x1="602" y1="445.4" x2="598.4" y2="449.7"/><line x1="598" y1="445.9" x2="602.4" y2="449.3"/><line x1="591.8" y1="448.4" x2="582.4" y2="449.1"/><line x1="594.2" y1="446.9" x2="589.4" y2="449.8"/><line x1="590.3" y1="446" x2="593.4" y2="450.7"/><line x1="585.2" y1="443.1" x2="575.1" y2="445.9"/><line x1="587.9" y1="442.6" x2="582.5" y2="443.7"/><line x1="584.6" y1="440.4" x2="585.8" y2="445.9"/><line x1="578.4" y1="438.7" x2="566.6" y2="436.6"/><line x1="581.1" y1="439.1" x2="575.6" y2="438.3"/><line x1="578.7" y1="435.9" x2="578" y2="441.5"/><line x1="575.9" y1="431" x2="568.8" y2="426.1"/><line x1="578.3" y1="432.3" x2="573.4" y2="429.7"/><line x1="577.1" y1="428.5" x2="574.6" y2="433.5"/><line x1="571.7" y1="423.2" x2="572" y2="413.1"/><line x1="573.6" y1="425.3" x2="569.8" y2="421.1"/><line x1="573.7" y1="421.3" x2="569.7" y2="425.2"/><line x1="574.9" y1="415.1" x2="570.6" y2="405.9"/><line x1="576" y1="417.7" x2="573.8" y2="412.6"/><line x1="577.5" y1="414" x2="572.4" y2="416.3"/><line x1="579.6" y1="408.4" x2="580" y2="395.9"/><line x1="579.7" y1="411.2" x2="579.4" y2="405.6"/><line x1="582.4" y1="408.1" x2="576.8" y2="408.6"/><line x1="586.1" y1="403.7" x2="590.8" y2="392.9"/><line x1="585.3" y1="406.4" x2="586.9" y2="401"/><line x1="588.8" y1="404.4" x2="583.4" y2="403"/><line x1="593.8" y1="402" x2="601.6" y2="402"/><line x1="592.1" y1="404.3" x2="595.4" y2="399.8"/><line x1="596.1" y1="403.6" x2="591.5" y2="400.4"/><line x1="601.7" y1="400.4" x2="611.2" y2="397.3"/><line x1="599.4" y1="401.9" x2="604" y2="398.8"/><line x1="603.3" y1="402.6" x2="600.1" y2="398.1"/><line x1="608.7" y1="404.4" x2="620.6" y2="401.4"/><line x1="606" y1="405.1" x2="611.4" y2="403.7"/><line x1="609.5" y1="407.1" x2="607.9" y2="401.7"/><line x1="620.2" y1="404.6" x2="626.7" y2="401"/><line x1="619.3" y1="407.2" x2="621.2" y2="402"/><line x1="622.9" y1="405.5" x2="617.6" y2="403.7"/><line x1="627.4" y1="399.5" x2="636.4" y2="400"/><line x1="625.6" y1="401.7" x2="629.1" y2="397.3"/><line x1="629.6" y1="401.2" x2="625.1" y2="397.8"/><line x1="635.9" y1="400.8" x2="646" y2="401"/><line x1="633.5" y1="402.2" x2="638.3" y2="399.3"/><line x1="637.4" y1="403.1" x2="634.4" y2="398.4"/><line x1="642.4" y1="406.3" x2="652.8" y2="409.1"/><line x1="639.6" y1="406.8" x2="645.1" y2="405.7"/><line x1="643" y1="409" x2="641.7" y2="403.5"/><line x1="648.2" y1="411.2" x2="652.1" y2="419.8"/><line x1="645.4" y1="410.8" x2="651" y2="411.6"/><line x1="647.9" y1="414" x2="648.5" y2="408.4"/><line x1="652.6" y1="417.8" x2="659.5" y2="424.7"/><line x1="650.1" y1="416.5" x2="655.1" y2="419.1"/><line x1="651.4" y1="420.3" x2="653.8" y2="415.3"/><line x1="653.6" y1="425.7" x2="651.6" y2="432.7"/><line x1="651.7" y1="423.6" x2="655.5" y2="427.8"/><line x1="651.6" y1="427.7" x2="655.6" y2="423.8"/><line x1="650.7" y1="433" x2="654.6" y2="443.9"/><line x1="649.6" y1="430.4" x2="651.8" y2="435.6"/><line x1="648.1" y1="434.2" x2="653.2" y2="431.8"/><line x1="649.7" y1="441.9" x2="646.1" y2="450.7"/><line x1="649.6" y1="439.1" x2="649.9" y2="444.7"/><line x1="646.9" y1="442.2" x2="652.5" y2="441.7"/><line x1="642" y1="445.9" x2="635.8" y2="450.2"/><line x1="642.8" y1="443.3" x2="641.2" y2="448.6"/><line x1="639.3" y1="445.2" x2="644.7" y2="446.7"/><line x1="634.3" y1="448.9" x2="625.4" y2="452.8"/><line x1="636" y1="446.6" x2="632.7" y2="451.2"/><line x1="632" y1="447.3" x2="636.6" y2="450.5"/><line x1="626.4" y1="447.2" x2="617.6" y2="452"/><line x1="628.7" y1="445.6" x2="624" y2="448.7"/><line x1="624.7" y1="444.9" x2="628" y2="449.4"/><line x1="617.6" y1="447.1" x2="607.3" y2="446.7"/><line x1="620.4" y1="446.4" x2="614.9" y2="447.8"/><line x1="616.9" y1="444.5" x2="618.4" y2="449.8"/></g></g>
<g><circle cx="719.7" cy="414" r="32.5" fill="#f4c7d6"/><circle cx="755" cy="445" r="32.5" fill="#f4c7d6"/><circle cx="724.2" cy="418" r="22.5" fill="#f2f2f3"/><circle cx="750.5" cy="441.3" r="22.5" fill="#f2f2f3"/><path d="M711.4,432.5 L737.7,455.8 L763.3,426.8 L737,403.5 Z" fill="#f2f2f3"/><g stroke="#80849c" stroke-width="0.55" fill="none" opacity="0.6"><line x1="718.3" y1="442.6" x2="710.6" y2="446.9"/><line x1="720.7" y1="441.2" x2="715.9" y2="444.1"/><line x1="716.8" y1="440.3" x2="719.8" y2="445"/><line x1="710.2" y1="439.3" x2="701.3" y2="440.4"/><line x1="713" y1="438.8" x2="707.5" y2="439.9"/><line x1="709.6" y1="436.6" x2="710.9" y2="442.1"/><line x1="705" y1="432.6" x2="694.8" y2="427.3"/><line x1="707.7" y1="433" x2="702.2" y2="432.1"/><line x1="705.3" y1="429.8" x2="704.6" y2="435.3"/><line x1="702.8" y1="424.7" x2="702" y2="417.6"/><line x1="705.3" y1="426.1" x2="700.3" y2="423.4"/><line x1="704.1" y1="422.2" x2="701.5" y2="427.2"/><line x1="700.3" y1="417.1" x2="702.5" y2="408.7"/><line x1="702.2" y1="419.2" x2="698.4" y2="415"/><line x1="702.3" y1="415.1" x2="698.3" y2="419"/><line x1="700.8" y1="408.6" x2="702.3" y2="401.7"/><line x1="701.9" y1="411.2" x2="699.8" y2="406"/><line x1="703.4" y1="407.5" x2="698.3" y2="409.8"/><line x1="705.5" y1="401.4" x2="709.3" y2="393.9"/><line x1="705.6" y1="404.2" x2="705.3" y2="398.6"/><line x1="708.3" y1="401.2" x2="702.7" y2="401.6"/><line x1="713.5" y1="398.5" x2="721.3" y2="395.1"/><line x1="712.7" y1="401.2" x2="714.3" y2="395.8"/><line x1="716.2" y1="399.2" x2="710.8" y2="397.7"/><line x1="720.2" y1="393.1" x2="730.4" y2="391.9"/><line x1="718.5" y1="395.3" x2="721.9" y2="390.8"/><line x1="722.5" y1="394.7" x2="717.9" y2="391.5"/><line x1="728.5" y1="394.6" x2="737.7" y2="395.6"/><line x1="726.2" y1="396.2" x2="730.9" y2="393.1"/><line x1="730.2" y1="396.9" x2="726.9" y2="392.4"/><line x1="735.5" y1="398.5" x2="741" y2="403.2"/><line x1="732.8" y1="399.2" x2="738.3" y2="397.9"/><line x1="736.3" y1="401.2" x2="734.8" y2="395.8"/><line x1="743" y1="402.1" x2="746.8" y2="409.7"/><line x1="740.2" y1="401.9" x2="745.8" y2="402.4"/><line x1="742.8" y1="404.9" x2="743.2" y2="399.3"/><line x1="744.9" y1="410.3" x2="747.4" y2="418.9"/><line x1="742.3" y1="409.1" x2="747.4" y2="411.5"/><line x1="743.8" y1="412.8" x2="746" y2="407.7"/><line x1="755.7" y1="419.7" x2="765.1" y2="414"/><line x1="753.3" y1="421.1" x2="758.1" y2="418.3"/><line x1="757.2" y1="422" x2="754.2" y2="417.3"/><line x1="762.3" y1="423.2" x2="768.2" y2="428.7"/><line x1="759.6" y1="423.7" x2="765.1" y2="422.7"/><line x1="763" y1="425.9" x2="761.7" y2="420.5"/><line x1="769.3" y1="427.1" x2="778.3" y2="432.3"/><line x1="766.5" y1="426.6" x2="772.1" y2="427.5"/><line x1="768.9" y1="429.9" x2="769.6" y2="424.3"/><line x1="774.5" y1="433.7" x2="781.7" y2="440.2"/><line x1="772" y1="432.4" x2="777" y2="435.1"/><line x1="773.2" y1="436.3" x2="775.8" y2="431.2"/><line x1="774.3" y1="442.2" x2="779.2" y2="451.5"/><line x1="772.4" y1="440.1" x2="776.2" y2="444.3"/><line x1="772.3" y1="444.1" x2="776.3" y2="440.3"/><line x1="772.5" y1="450.1" x2="772.4" y2="460.5"/><line x1="771.4" y1="447.5" x2="773.5" y2="452.7"/><line x1="769.9" y1="451.3" x2="775" y2="449"/><line x1="768.2" y1="457" x2="767.9" y2="469.6"/><line x1="768" y1="454.2" x2="768.3" y2="459.8"/><line x1="765.4" y1="457.2" x2="771" y2="456.7"/><line x1="761.5" y1="461.4" x2="755.8" y2="468.8"/><line x1="762.4" y1="458.7" x2="760.7" y2="464.1"/><line x1="758.8" y1="460.6" x2="764.2" y2="462.1"/><line x1="754.5" y1="466.2" x2="746.6" y2="465.8"/><line x1="756.2" y1="464" x2="752.8" y2="468.4"/><line x1="752.2" y1="464.6" x2="756.8" y2="467.8"/><line x1="746.3" y1="464" x2="735.6" y2="470.1"/><line x1="748.6" y1="462.5" x2="743.9" y2="465.6"/><line x1="744.7" y1="461.7" x2="747.9" y2="466.3"/><line x1="739.3" y1="460.5" x2="730.8" y2="458.4"/><line x1="742.1" y1="459.8" x2="736.6" y2="461.1"/><line x1="738.6" y1="457.8" x2="740.1" y2="463.2"/><line x1="733.1" y1="456" x2="724.8" y2="452.9"/><line x1="735.8" y1="456.3" x2="730.3" y2="455.7"/><line x1="733.3" y1="453.2" x2="732.9" y2="458.8"/><line x1="730.2" y1="448.9" x2="724.3" y2="440.2"/><line x1="732.7" y1="450.1" x2="727.7" y2="447.7"/><line x1="731.3" y1="446.3" x2="729.1" y2="451.4"/></g></g>
<text x="595" y="427" font-size="15.3" textLength="34" lengthAdjust="spacingAndGlyphs" class="w">water</text>
<text x="0" y="0" font-size="15.3" textLength="34" lengthAdjust="spacingAndGlyphs" class="w" transform="translate(720.3,423.2) rotate(38)">water</text>
<text x="537.7" y="494.6" font-size="15.5" textLength="252.7" lengthAdjust="spacingAndGlyphs">Water droplet aggregation and settlement</text>
</g>
</svg>
</body></html>
